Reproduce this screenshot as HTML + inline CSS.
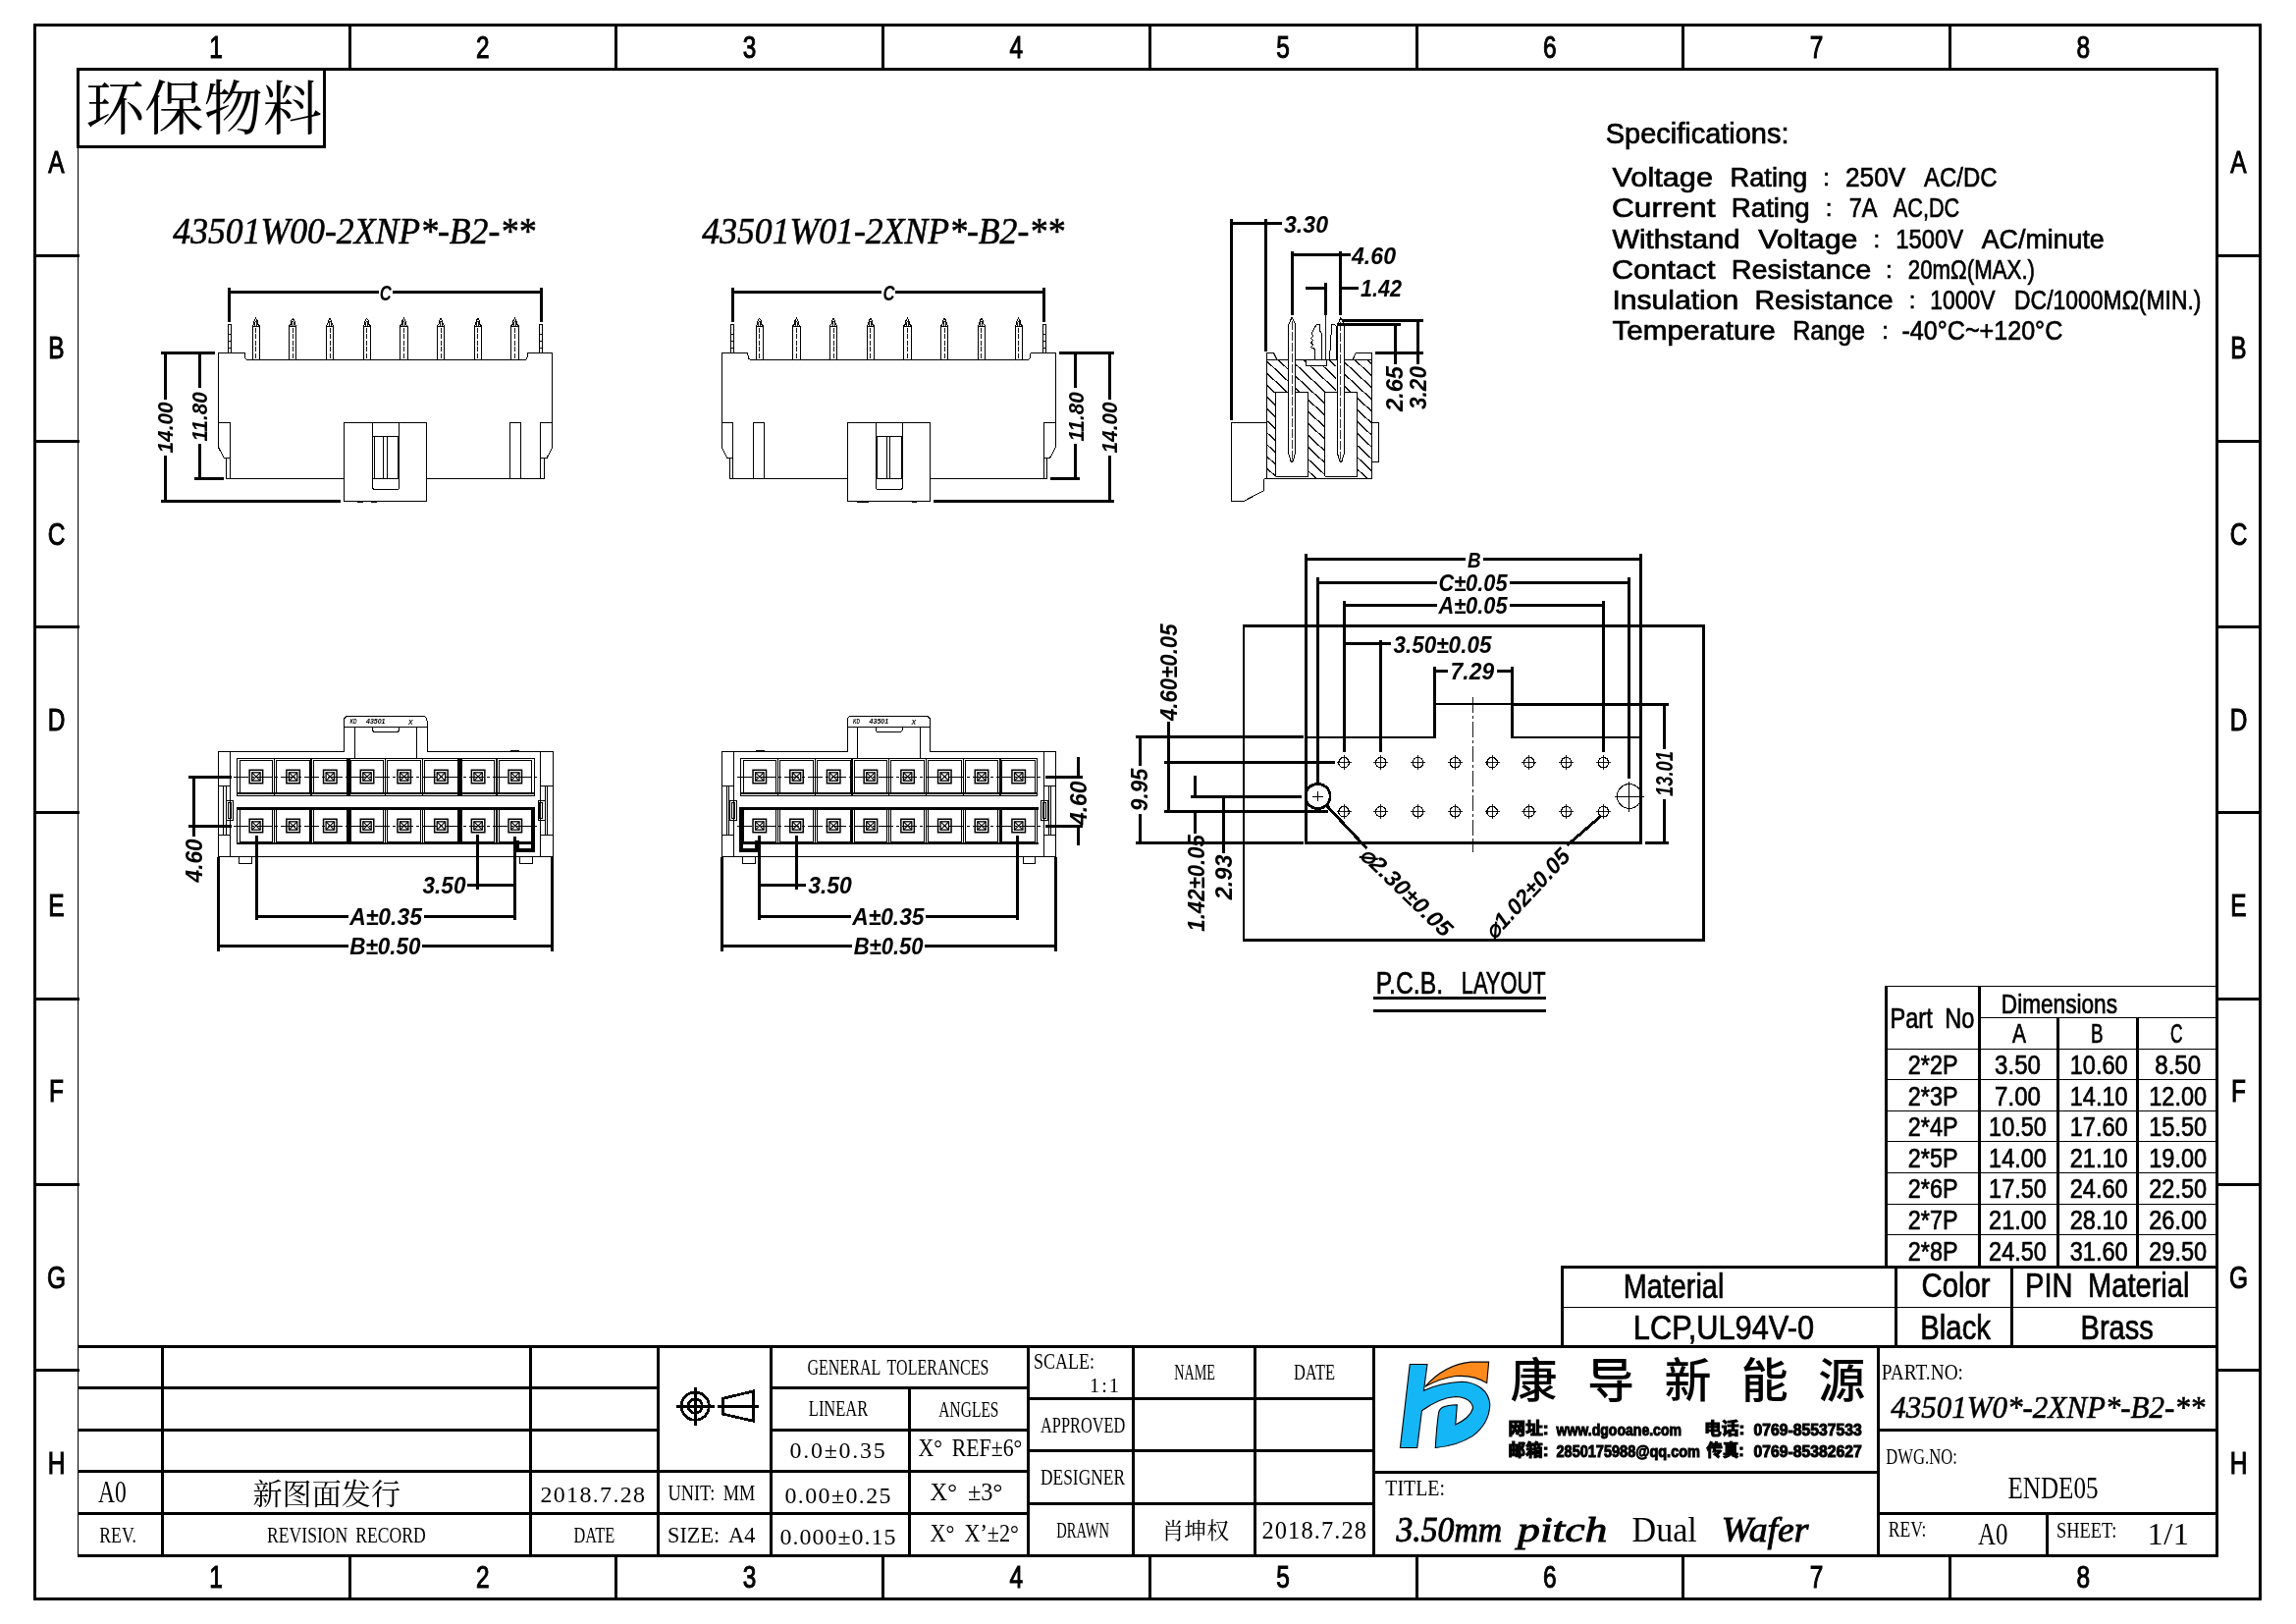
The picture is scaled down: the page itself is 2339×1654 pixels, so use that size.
<!DOCTYPE html>
<html lang="zh"><head><meta charset="utf-8"><title>43501W0 3.50mm pitch Dual Wafer</title>
<style>
html,body{margin:0;padding:0;background:#fff}
svg{display:block;will-change:transform}
svg *{vector-effect:none}
.ln path,.ln rect,.ln circle{fill:none;stroke:#000;shape-rendering:crispEdges}
.ln .aa *{shape-rendering:auto}
text{fill:#000;stroke:none}
.cad{font-family:"Liberation Sans",sans-serif;stroke:#000;stroke-width:.7px;word-spacing:.25em}
.dim{font-family:"Liberation Sans",sans-serif;font-style:italic;font-weight:bold}
.song{font-family:"Liberation Serif","Noto Serif CJK SC",serif;word-spacing:.2em}
.songi{font-family:"Liberation Serif","Noto Serif CJK SC",serif;font-style:italic;stroke:#000;stroke-width:.6px}
.songbi{font-family:"Liberation Serif","Noto Serif CJK SC",serif;font-style:italic;stroke:#000;stroke-width:.9px}
.zone{font-family:"Liberation Sans",sans-serif;stroke:#000;stroke-width:1.05px}
.hei{font-family:"Liberation Sans","Noto Sans CJK SC",sans-serif;font-weight:500}
.heib{font-family:"Liberation Sans","Noto Sans CJK SC",sans-serif;font-weight:bold;stroke:#000;stroke-width:1.1px}
</style></head><body>
<svg width="2339" height="1654" viewBox="0 0 2339 1654" class="ln">
<rect x="0" y="0" width="2339" height="1654" style="fill:#fff;stroke:none"/>

<g id="frame">
<rect x="35.5" y="25.2" width="2267" height="1603.3" stroke-width="3"/>
<path d="M78 70.5L2260.2 70.5" stroke-width="3"/>
<path d="M2258.75 70.5L2258.75 1585.5" stroke-width="3"/>
<path d="M78.5 1584.2L2260.2 1584.2" stroke-width="3"/>
<path d="M79.5 70L79.5 1585" stroke-width="1"/>
<path d="M356 25L356 70.5" stroke-width="3"/>
<path d="M356 1584L356 1628.5" stroke-width="3"/>
<path d="M35.5 260L80.5 260" stroke-width="3"/>
<path d="M2258.75 260L2302.5 260" stroke-width="3"/>
<path d="M627.75 25L627.75 70.5" stroke-width="3"/>
<path d="M627.75 1584L627.75 1628.5" stroke-width="3"/>
<path d="M35.5 449.25L80.5 449.25" stroke-width="3"/>
<path d="M2258.75 449.25L2302.5 449.25" stroke-width="3"/>
<path d="M899.5 25L899.5 70.5" stroke-width="3"/>
<path d="M899.5 1584L899.5 1628.5" stroke-width="3"/>
<path d="M35.5 638.5L80.5 638.5" stroke-width="3"/>
<path d="M2258.75 638.5L2302.5 638.5" stroke-width="3"/>
<path d="M1171.25 25L1171.25 70.5" stroke-width="3"/>
<path d="M1171.25 1584L1171.25 1628.5" stroke-width="3"/>
<path d="M35.5 827.75L80.5 827.75" stroke-width="3"/>
<path d="M2258.75 827.75L2302.5 827.75" stroke-width="3"/>
<path d="M1443 25L1443 70.5" stroke-width="3"/>
<path d="M1443 1584L1443 1628.5" stroke-width="3"/>
<path d="M35.5 1017L80.5 1017" stroke-width="3"/>
<path d="M2258.75 1017L2302.5 1017" stroke-width="3"/>
<path d="M1714.75 25L1714.75 70.5" stroke-width="3"/>
<path d="M1714.75 1584L1714.75 1628.5" stroke-width="3"/>
<path d="M35.5 1206.25L80.5 1206.25" stroke-width="3"/>
<path d="M2258.75 1206.25L2302.5 1206.25" stroke-width="3"/>
<path d="M1986.5 25L1986.5 70.5" stroke-width="3"/>
<path d="M1986.5 1584L1986.5 1628.5" stroke-width="3"/>
<path d="M35.5 1395.5L80.5 1395.5" stroke-width="3"/>
<path d="M2258.75 1395.5L2302.5 1395.5" stroke-width="3"/>
<text class="zone" x="220.1" y="59.3" font-size="30.5" text-anchor="middle" transform="translate(220.1 0) scale(.8 1) translate(-220.1 0)">1</text>
<text class="zone" x="220.1" y="1616.8" font-size="30.5" text-anchor="middle" transform="translate(220.1 0) scale(.8 1) translate(-220.1 0)">1</text>
<text class="zone" x="491.85" y="59.3" font-size="30.5" text-anchor="middle" transform="translate(491.85 0) scale(.8 1) translate(-491.85 0)">2</text>
<text class="zone" x="491.85" y="1616.8" font-size="30.5" text-anchor="middle" transform="translate(491.85 0) scale(.8 1) translate(-491.85 0)">2</text>
<text class="zone" x="763.6" y="59.3" font-size="30.5" text-anchor="middle" transform="translate(763.6 0) scale(.8 1) translate(-763.6 0)">3</text>
<text class="zone" x="763.6" y="1616.8" font-size="30.5" text-anchor="middle" transform="translate(763.6 0) scale(.8 1) translate(-763.6 0)">3</text>
<text class="zone" x="1035.35" y="59.3" font-size="30.5" text-anchor="middle" transform="translate(1035.35 0) scale(.8 1) translate(-1035.35 0)">4</text>
<text class="zone" x="1035.35" y="1616.8" font-size="30.5" text-anchor="middle" transform="translate(1035.35 0) scale(.8 1) translate(-1035.35 0)">4</text>
<text class="zone" x="1307.1" y="59.3" font-size="30.5" text-anchor="middle" transform="translate(1307.1 0) scale(.8 1) translate(-1307.1 0)">5</text>
<text class="zone" x="1307.1" y="1616.8" font-size="30.5" text-anchor="middle" transform="translate(1307.1 0) scale(.8 1) translate(-1307.1 0)">5</text>
<text class="zone" x="1578.85" y="59.3" font-size="30.5" text-anchor="middle" transform="translate(1578.85 0) scale(.8 1) translate(-1578.85 0)">6</text>
<text class="zone" x="1578.85" y="1616.8" font-size="30.5" text-anchor="middle" transform="translate(1578.85 0) scale(.8 1) translate(-1578.85 0)">6</text>
<text class="zone" x="1850.6" y="59.3" font-size="30.5" text-anchor="middle" transform="translate(1850.6 0) scale(.8 1) translate(-1850.6 0)">7</text>
<text class="zone" x="1850.6" y="1616.8" font-size="30.5" text-anchor="middle" transform="translate(1850.6 0) scale(.8 1) translate(-1850.6 0)">7</text>
<text class="zone" x="2122.35" y="59.3" font-size="30.5" text-anchor="middle" transform="translate(2122.35 0) scale(.8 1) translate(-2122.35 0)">8</text>
<text class="zone" x="2122.35" y="1616.8" font-size="30.5" text-anchor="middle" transform="translate(2122.35 0) scale(.8 1) translate(-2122.35 0)">8</text>
<text class="zone" x="57.5" y="176.1" font-size="30.5" text-anchor="middle" transform="translate(57.5 0) scale(.8 1) translate(-57.5 0)">A</text>
<text class="zone" x="2280.5" y="176.1" font-size="30.5" text-anchor="middle" transform="translate(2280.5 0) scale(.8 1) translate(-2280.5 0)">A</text>
<text class="zone" x="57.5" y="365.4" font-size="30.5" text-anchor="middle" transform="translate(57.5 0) scale(.8 1) translate(-57.5 0)">B</text>
<text class="zone" x="2280.5" y="365.4" font-size="30.5" text-anchor="middle" transform="translate(2280.5 0) scale(.8 1) translate(-2280.5 0)">B</text>
<text class="zone" x="57.5" y="554.65" font-size="30.5" text-anchor="middle" transform="translate(57.5 0) scale(.8 1) translate(-57.5 0)">C</text>
<text class="zone" x="2280.5" y="554.65" font-size="30.5" text-anchor="middle" transform="translate(2280.5 0) scale(.8 1) translate(-2280.5 0)">C</text>
<text class="zone" x="57.5" y="743.9" font-size="30.5" text-anchor="middle" transform="translate(57.5 0) scale(.8 1) translate(-57.5 0)">D</text>
<text class="zone" x="2280.5" y="743.9" font-size="30.5" text-anchor="middle" transform="translate(2280.5 0) scale(.8 1) translate(-2280.5 0)">D</text>
<text class="zone" x="57.5" y="933.15" font-size="30.5" text-anchor="middle" transform="translate(57.5 0) scale(.8 1) translate(-57.5 0)">E</text>
<text class="zone" x="2280.5" y="933.15" font-size="30.5" text-anchor="middle" transform="translate(2280.5 0) scale(.8 1) translate(-2280.5 0)">E</text>
<text class="zone" x="57.5" y="1122.4" font-size="30.5" text-anchor="middle" transform="translate(57.5 0) scale(.8 1) translate(-57.5 0)">F</text>
<text class="zone" x="2280.5" y="1122.4" font-size="30.5" text-anchor="middle" transform="translate(2280.5 0) scale(.8 1) translate(-2280.5 0)">F</text>
<text class="zone" x="57.5" y="1311.65" font-size="30.5" text-anchor="middle" transform="translate(57.5 0) scale(.8 1) translate(-57.5 0)">G</text>
<text class="zone" x="2280.5" y="1311.65" font-size="30.5" text-anchor="middle" transform="translate(2280.5 0) scale(.8 1) translate(-2280.5 0)">G</text>
<text class="zone" x="57.5" y="1500.8" font-size="30.5" text-anchor="middle" transform="translate(57.5 0) scale(.8 1) translate(-57.5 0)">H</text>
<text class="zone" x="2280.5" y="1500.8" font-size="30.5" text-anchor="middle" transform="translate(2280.5 0) scale(.8 1) translate(-2280.5 0)">H</text>
<rect x="79.5" y="70.5" width="250.5" height="78.5" stroke-width="3"/>
<text class="song" x="87" y="131.5" font-size="60.5" textLength="241" lengthAdjust="spacingAndGlyphs">环保物料</text>
</g>
<g id="tb">
<path d="M78.5 1371.25L2260 1371.25" stroke-width="3"/>
<path d="M78.5 1413.75L670.5 1413.75" stroke-width="3"/>
<path d="M785.5 1413.75L1047.5 1413.75" stroke-width="3"/>
<path d="M78.5 1456.25L670.5 1456.25" stroke-width="3"/>
<path d="M785.5 1456.25L1047.5 1456.25" stroke-width="3"/>
<path d="M78.5 1498.75L670.5 1498.75" stroke-width="3"/>
<path d="M670.5 1498.75L785.5 1498.75" stroke-width="3"/>
<path d="M785.5 1498.75L1047.5 1498.75" stroke-width="3"/>
<path d="M78.5 1541.25L670.5 1541.25" stroke-width="3"/>
<path d="M670.5 1541.25L785.5 1541.25" stroke-width="3"/>
<path d="M785.5 1541.25L1047.5 1541.25" stroke-width="3"/>
<path d="M1047.5 1424.5L1399.75 1424.5" stroke-width="3"/>
<path d="M1047.5 1477.5L1399.75 1477.5" stroke-width="3"/>
<path d="M1047.5 1531.25L1399.75 1531.25" stroke-width="3"/>
<path d="M1399.75 1499.25L1913.5 1499.25" stroke-width="3"/>
<path d="M1913.5 1456.25L2258.75 1456.25" stroke-width="3"/>
<path d="M1913.5 1541.25L2258.75 1541.25" stroke-width="3"/>
<path d="M165 1371.25L165 1584.2" stroke-width="3"/>
<path d="M540.5 1371.25L540.5 1584.2" stroke-width="3"/>
<path d="M670.5 1371.25L670.5 1584.2" stroke-width="3"/>
<path d="M785.5 1371.25L785.5 1584.2" stroke-width="3"/>
<path d="M1047.5 1371.25L1047.5 1584.2" stroke-width="3"/>
<path d="M1154.5 1371.25L1154.5 1584.2" stroke-width="3"/>
<path d="M1278.75 1371.25L1278.75 1584.2" stroke-width="3"/>
<path d="M1399.75 1371.25L1399.75 1584.2" stroke-width="3"/>
<path d="M1913.5 1371.25L1913.5 1584.2" stroke-width="3"/>
<path d="M926.25 1413.75L926.25 1584.2" stroke-width="3"/>
<path d="M2085 1541.25L2085 1584.2" stroke-width="3"/>
<path d="M1590 1290L2258.75 1290" stroke-width="3"/>
<path d="M1591.5 1288.5L1591.5 1371.25" stroke-width="3"/>
<path d="M1931.5 1290L1931.5 1371.25" stroke-width="3"/>
<path d="M2049.25 1290L2049.25 1371.25" stroke-width="3"/>
<path d="M1591.5 1331.5L2258.75 1331.5" stroke-width="1"/>
<path d="M1921.5 1004L1921.5 1290" stroke-width="3"/>
<path d="M2016.5 1004L2016.5 1290" stroke-width="3"/>
<path d="M2096.5 1036L2096.5 1290" stroke-width="3"/>
<path d="M2177.5 1036L2177.5 1290" stroke-width="3"/>
<path d="M1920.5 1004.5L2258.75 1004.5" stroke-width="1"/>
<path d="M2016.25 1036.5L2258.75 1036.5" stroke-width="1"/>
<path d="M1921.75 1068.5L2258.75 1068.5" stroke-width="1"/>
<path d="M1921.75 1099.5L2258.75 1099.5" stroke-width="1"/>
<path d="M1921.75 1131.5L2258.75 1131.5" stroke-width="1"/>
<path d="M1921.75 1162.5L2258.75 1162.5" stroke-width="1"/>
<path d="M1921.75 1194.5L2258.75 1194.5" stroke-width="1"/>
<path d="M1921.75 1226.5L2258.75 1226.5" stroke-width="1"/>
<path d="M1921.75 1257.5L2258.75 1257.5" stroke-width="1"/>
</g>
<g id="tt">
<text class="cad" x="1925.5" y="1047" font-size="29.33" textLength="85.8" lengthAdjust="spacingAndGlyphs">Part No</text>
<text class="cad" x="2038.8" y="1032" font-size="27.93" textLength="118.2" lengthAdjust="spacingAndGlyphs">Dimensions</text>
<text class="cad" x="2050" y="1061.5" font-size="27.23" textLength="14" lengthAdjust="spacingAndGlyphs">A</text>
<text class="cad" x="2130" y="1061.5" font-size="27.23" textLength="12.5" lengthAdjust="spacingAndGlyphs">B</text>
<text class="cad" x="2211" y="1061.5" font-size="27.23" textLength="12.5" lengthAdjust="spacingAndGlyphs">C</text>
<text class="cad" x="1943.8" y="1093.9" font-size="27.93" textLength="50.7" lengthAdjust="spacingAndGlyphs">2*2P</text>
<text class="cad" x="2032.1" y="1093.9" font-size="27.93" textLength="46.8" lengthAdjust="spacingAndGlyphs">3.50</text>
<text class="cad" x="2108.8" y="1093.9" font-size="27.93" textLength="58.8" lengthAdjust="spacingAndGlyphs">10.60</text>
<text class="cad" x="2195.3" y="1093.9" font-size="27.93" textLength="46.8" lengthAdjust="spacingAndGlyphs">8.50</text>
<text class="cad" x="1943.8" y="1125.5" font-size="27.93" textLength="50.7" lengthAdjust="spacingAndGlyphs">2*3P</text>
<text class="cad" x="2032.1" y="1125.5" font-size="27.93" textLength="46.8" lengthAdjust="spacingAndGlyphs">7.00</text>
<text class="cad" x="2108.8" y="1125.5" font-size="27.93" textLength="58.8" lengthAdjust="spacingAndGlyphs">14.10</text>
<text class="cad" x="2189.3" y="1125.5" font-size="27.93" textLength="58.8" lengthAdjust="spacingAndGlyphs">12.00</text>
<text class="cad" x="1943.8" y="1157.1" font-size="27.93" textLength="50.7" lengthAdjust="spacingAndGlyphs">2*4P</text>
<text class="cad" x="2026.1" y="1157.1" font-size="27.93" textLength="58.8" lengthAdjust="spacingAndGlyphs">10.50</text>
<text class="cad" x="2108.8" y="1157.1" font-size="27.93" textLength="58.8" lengthAdjust="spacingAndGlyphs">17.60</text>
<text class="cad" x="2189.3" y="1157.1" font-size="27.93" textLength="58.8" lengthAdjust="spacingAndGlyphs">15.50</text>
<text class="cad" x="1943.8" y="1188.7" font-size="27.93" textLength="50.7" lengthAdjust="spacingAndGlyphs">2*5P</text>
<text class="cad" x="2026.1" y="1188.7" font-size="27.93" textLength="58.8" lengthAdjust="spacingAndGlyphs">14.00</text>
<text class="cad" x="2108.8" y="1188.7" font-size="27.93" textLength="58.8" lengthAdjust="spacingAndGlyphs">21.10</text>
<text class="cad" x="2189.3" y="1188.7" font-size="27.93" textLength="58.8" lengthAdjust="spacingAndGlyphs">19.00</text>
<text class="cad" x="1943.8" y="1220.3" font-size="27.93" textLength="50.7" lengthAdjust="spacingAndGlyphs">2*6P</text>
<text class="cad" x="2026.1" y="1220.3" font-size="27.93" textLength="58.8" lengthAdjust="spacingAndGlyphs">17.50</text>
<text class="cad" x="2108.8" y="1220.3" font-size="27.93" textLength="58.8" lengthAdjust="spacingAndGlyphs">24.60</text>
<text class="cad" x="2189.3" y="1220.3" font-size="27.93" textLength="58.8" lengthAdjust="spacingAndGlyphs">22.50</text>
<text class="cad" x="1943.8" y="1251.9" font-size="27.93" textLength="50.7" lengthAdjust="spacingAndGlyphs">2*7P</text>
<text class="cad" x="2026.1" y="1251.9" font-size="27.93" textLength="58.8" lengthAdjust="spacingAndGlyphs">21.00</text>
<text class="cad" x="2108.8" y="1251.9" font-size="27.93" textLength="58.8" lengthAdjust="spacingAndGlyphs">28.10</text>
<text class="cad" x="2189.3" y="1251.9" font-size="27.93" textLength="58.8" lengthAdjust="spacingAndGlyphs">26.00</text>
<text class="cad" x="1943.8" y="1283.5" font-size="27.93" textLength="50.7" lengthAdjust="spacingAndGlyphs">2*8P</text>
<text class="cad" x="2026.1" y="1283.5" font-size="27.93" textLength="58.8" lengthAdjust="spacingAndGlyphs">24.50</text>
<text class="cad" x="2108.8" y="1283.5" font-size="27.93" textLength="58.8" lengthAdjust="spacingAndGlyphs">31.60</text>
<text class="cad" x="2189.3" y="1283.5" font-size="27.93" textLength="58.8" lengthAdjust="spacingAndGlyphs">29.50</text>
<text class="cad" x="1653.8" y="1322" font-size="34.92" textLength="102.5" lengthAdjust="spacingAndGlyphs">Material</text>
<text class="cad" x="1663.8" y="1364.3" font-size="34.64" textLength="184.2" lengthAdjust="spacingAndGlyphs">LCP,UL94V-0</text>
<text class="cad" x="1957.5" y="1320.5" font-size="34.92" textLength="70" lengthAdjust="spacingAndGlyphs">Color</text>
<text class="cad" x="2063" y="1320.5" font-size="34.92" textLength="167.5" lengthAdjust="spacingAndGlyphs">PIN Material</text>
<text class="cad" x="1956.3" y="1364" font-size="34.22" textLength="71.7" lengthAdjust="spacingAndGlyphs">Black</text>
<text class="cad" x="2119.5" y="1364" font-size="34.22" textLength="74.3" lengthAdjust="spacingAndGlyphs">Brass</text>
</g>
<g id="spec">
<text class="cad" x="1635.8" y="145.5" font-size="28.6" textLength="186.7" lengthAdjust="spacingAndGlyphs">Specifications:</text>
<text class="cad" x="1642.5" y="190" font-size="28.2" textLength="102.5" lengthAdjust="spacingAndGlyphs">Voltage</text>
<text class="cad" x="1762.5" y="190" font-size="28.2" textLength="78.75" lengthAdjust="spacingAndGlyphs">Rating</text>
<text class="cad" x="1857.25" y="189" font-size="24">:</text>
<text class="cad" x="1880" y="190" font-size="28.2" textLength="61.25" lengthAdjust="spacingAndGlyphs">250V</text>
<text class="cad" x="1960" y="190" font-size="28.2" textLength="74.5" lengthAdjust="spacingAndGlyphs">AC/DC</text>
<text class="cad" x="1642" y="221.25" font-size="28.2" textLength="105.5" lengthAdjust="spacingAndGlyphs">Current</text>
<text class="cad" x="1763.75" y="221.25" font-size="28.2" textLength="80" lengthAdjust="spacingAndGlyphs">Rating</text>
<text class="cad" x="1859.75" y="220.25" font-size="24">:</text>
<text class="cad" x="1883.75" y="221.25" font-size="28.2" textLength="28.75" lengthAdjust="spacingAndGlyphs">7A</text>
<text class="cad" x="1928.75" y="221.25" font-size="28.2" textLength="67.5" lengthAdjust="spacingAndGlyphs">AC,DC</text>
<text class="cad" x="1642.5" y="252.5" font-size="28.2" textLength="130" lengthAdjust="spacingAndGlyphs">Withstand</text>
<text class="cad" x="1791.25" y="252.5" font-size="28.2" textLength="101.25" lengthAdjust="spacingAndGlyphs">Voltage</text>
<text class="cad" x="1908.5" y="251.5" font-size="24">:</text>
<text class="cad" x="1931.25" y="252.5" font-size="28.2" textLength="68.75" lengthAdjust="spacingAndGlyphs">1500V</text>
<text class="cad" x="2018.75" y="252.5" font-size="28.2" textLength="125" lengthAdjust="spacingAndGlyphs">AC/minute</text>
<text class="cad" x="1642" y="283.75" font-size="28.2" textLength="105.5" lengthAdjust="spacingAndGlyphs">Contact</text>
<text class="cad" x="1763.75" y="283.75" font-size="28.2" textLength="142.5" lengthAdjust="spacingAndGlyphs">Resistance</text>
<text class="cad" x="1921" y="282.75" font-size="24">:</text>
<text class="cad" x="1943.75" y="283.75" font-size="28.2" textLength="129.25" lengthAdjust="spacingAndGlyphs">20mΩ(MAX.)</text>
<text class="cad" x="1642.5" y="315" font-size="28.2" textLength="128.75" lengthAdjust="spacingAndGlyphs">Insulation</text>
<text class="cad" x="1787.5" y="315" font-size="28.2" textLength="141.25" lengthAdjust="spacingAndGlyphs">Resistance</text>
<text class="cad" x="1944.75" y="314" font-size="24">:</text>
<text class="cad" x="1966.25" y="315" font-size="28.2" textLength="66.25" lengthAdjust="spacingAndGlyphs">1000V</text>
<text class="cad" x="2052" y="315" font-size="28.2" textLength="190.5" lengthAdjust="spacingAndGlyphs">DC/1000MΩ(MIN.)</text>
<text class="cad" x="1642.5" y="346.25" font-size="28.2" textLength="166.25" lengthAdjust="spacingAndGlyphs">Temperature</text>
<text class="cad" x="1826.25" y="346.25" font-size="28.2" textLength="73.75" lengthAdjust="spacingAndGlyphs">Range</text>
<text class="cad" x="1917.25" y="345.25" font-size="24">:</text>
<text class="cad" x="1937.5" y="346.25" font-size="28.2" textLength="163.75" lengthAdjust="spacingAndGlyphs">-40°C~+120°C</text>
</g>
<g id="tbt">
<text class="song" x="550.5" y="1530" font-size="23.96" textLength="106.5" lengthAdjust="spacing">2018.7.28</text>
<text class="song" x="680.5" y="1528" font-size="23.48" textLength="88.8" lengthAdjust="spacingAndGlyphs">UNIT: MM</text>
<text class="song" x="584.5" y="1570.5" font-size="22.73" textLength="41.8" lengthAdjust="spacingAndGlyphs">DATE</text>
<text class="song" x="680" y="1570.5" font-size="22.73" textLength="89.3" lengthAdjust="spacingAndGlyphs">SIZE: A4</text>
<text class="song" x="822.5" y="1400" font-size="22.73" textLength="185" lengthAdjust="spacingAndGlyphs">GENERAL TOLERANCES</text>
<text class="song" x="823.8" y="1442.3" font-size="22.42" textLength="60.5" lengthAdjust="spacingAndGlyphs">LINEAR</text>
<text class="song" x="956.3" y="1442.5" font-size="22.73" textLength="61.2" lengthAdjust="spacingAndGlyphs">ANGLES</text>
<text class="song" x="804.5" y="1485" font-size="23.96" textLength="97.3" lengthAdjust="spacing">0.0±0.35</text>
<text class="song" x="935.5" y="1482.5" font-size="24.55" textLength="105.8" lengthAdjust="spacingAndGlyphs">X° REF±6°</text>
<text class="song" x="799.5" y="1530.5" font-size="23.96" textLength="108" lengthAdjust="spacing">0.00±0.25</text>
<text class="song" x="947.5" y="1527.5" font-size="24.55" textLength="73.8" lengthAdjust="spacingAndGlyphs">X° ±3°</text>
<text class="song" x="794.5" y="1572.5" font-size="23.96" textLength="118" lengthAdjust="spacing">0.000±0.15</text>
<text class="song" x="947.5" y="1569.5" font-size="24.55" textLength="90.5" lengthAdjust="spacingAndGlyphs">X° X’±2°</text>
<text class="song" x="100" y="1530" font-size="31.36" textLength="28.8" lengthAdjust="spacingAndGlyphs">A0</text>
<text class="song" x="257.5" y="1532" font-size="30" textLength="150.5" lengthAdjust="spacingAndGlyphs">新图面发行</text>
<text class="song" x="101.3" y="1571" font-size="23.48" textLength="37.5" lengthAdjust="spacingAndGlyphs">REV.</text>
<text class="song" x="272" y="1571" font-size="23.48" textLength="161.8" lengthAdjust="spacingAndGlyphs">REVISION RECORD</text>
<text class="song" x="1053" y="1393.8" font-size="22.73" textLength="62" lengthAdjust="spacingAndGlyphs">SCALE:</text>
<text class="song" x="1110" y="1417.5" font-size="20.27" textLength="30" lengthAdjust="spacing">1:1</text>
<text class="song" x="1196.3" y="1405" font-size="22.73" textLength="41.7" lengthAdjust="spacingAndGlyphs">NAME</text>
<text class="song" x="1318" y="1405" font-size="22.73" textLength="42" lengthAdjust="spacingAndGlyphs">DATE</text>
<text class="song" x="1060" y="1458.8" font-size="22.73" textLength="86.3" lengthAdjust="spacingAndGlyphs">APPROVED</text>
<text class="song" x="1060" y="1512" font-size="22.73" textLength="86" lengthAdjust="spacingAndGlyphs">DESIGNER</text>
<text class="song" x="1076.3" y="1566.3" font-size="22.73" textLength="53.7" lengthAdjust="spacingAndGlyphs">DRAWN</text>
<text class="song" x="1183.5" y="1567" font-size="23" textLength="68.5" lengthAdjust="spacingAndGlyphs">肖坤权</text>
<text class="song" x="1285.5" y="1567" font-size="24.41" textLength="106.5" lengthAdjust="spacing">2018.7.28</text>
<text class="song" x="1411.3" y="1523" font-size="22.73" textLength="60.7" lengthAdjust="spacingAndGlyphs">TITLE:</text>
<text class="songbi" x="1422.5" y="1570" font-size="34.85" textLength="107.5" lengthAdjust="spacingAndGlyphs">3.50mm</text>
<text class="songbi" x="1546" y="1570" font-size="34.85" textLength="91.5" lengthAdjust="spacingAndGlyphs">pitch</text>
<text class="song" x="1662.5" y="1570" font-size="34.85" textLength="66.3" lengthAdjust="spacingAndGlyphs">Dual</text>
<text class="songbi" x="1753.8" y="1570" font-size="34.85" textLength="88.7" lengthAdjust="spacingAndGlyphs">Wafer</text>
<text class="song" x="1916.8" y="1405" font-size="22.73" textLength="83.2" lengthAdjust="spacingAndGlyphs">PART.NO:</text>
<text class="songi" x="1926.3" y="1443.8" font-size="32.27" textLength="320" lengthAdjust="spacingAndGlyphs">43501W0*-2XNP*-B2-**</text>
<text class="song" x="1921.3" y="1491.3" font-size="22.73" textLength="72.5" lengthAdjust="spacingAndGlyphs">DWG.NO:</text>
<text class="song" x="2045.5" y="1525.5" font-size="31.06" textLength="92" lengthAdjust="spacingAndGlyphs">ENDE05</text>
<text class="song" x="1923.8" y="1565" font-size="22.73" textLength="38.7" lengthAdjust="spacingAndGlyphs">REV:</text>
<text class="song" x="2015" y="1572.5" font-size="32.12" textLength="30.5" lengthAdjust="spacingAndGlyphs">A0</text>
<text class="song" x="2095" y="1565.8" font-size="22.42" textLength="61.3" lengthAdjust="spacingAndGlyphs">SHEET:</text>
<text class="song" x="2187.5" y="1573" font-size="32.54" textLength="42.5" lengthAdjust="spacing">1/1</text>
<text class="hei" x="1538.5" y="1422.5" font-size="48">康</text>
<text class="hei" x="1616.95" y="1422.5" font-size="48">导</text>
<text class="hei" x="1695.4" y="1422.5" font-size="48">新</text>
<text class="hei" x="1773.85" y="1422.5" font-size="48">能</text>
<text class="hei" x="1852.3" y="1422.5" font-size="48">源</text>
<text class="heib" x="1536.6" y="1460.8" font-size="16.5" textLength="41" lengthAdjust="spacingAndGlyphs">网址:</text>
<text class="heib" x="1585.5" y="1461.6" font-size="17" textLength="127.5" lengthAdjust="spacingAndGlyphs">www.dgooane.com</text>
<text class="heib" x="1736.1" y="1460.8" font-size="16.5" textLength="41.4" lengthAdjust="spacingAndGlyphs">电话:</text>
<text class="heib" x="1786.6" y="1461.6" font-size="17" textLength="110.1" lengthAdjust="spacingAndGlyphs">0769-85537533</text>
<text class="heib" x="1536.6" y="1482.8" font-size="16.5" textLength="41" lengthAdjust="spacingAndGlyphs">邮箱:</text>
<text class="heib" x="1585.5" y="1483.6" font-size="17" textLength="146.5" lengthAdjust="spacingAndGlyphs">2850175988@qq.com</text>
<text class="heib" x="1738.6" y="1482.8" font-size="16.5" textLength="38.1" lengthAdjust="spacingAndGlyphs">传真:</text>
<text class="heib" x="1786.6" y="1483.6" font-size="17" textLength="110.1" lengthAdjust="spacingAndGlyphs">0769-85382627</text>
<g class="aa" transform="translate(1400 1372) scale(.078818)" stroke="#0a2a6a" stroke-width="14">
<path style="fill:#14b6f6" d="M460 222L685 222L640 562C760 505 930 455 1130 447C1330 455 1480 560 1495 740C1490 900 1420 1040 1270 1150C1120 1245 960 1285 790 1300C800 1130 815 960 832 850C845 780 900 752 1070 745L1050 1002C1150 955 1250 880 1275 790C1270 700 1180 645 1050 640C900 650 740 730 615 822L555 1300L335 1300Z"/>
<path style="fill:#ff8a1c" d="M655 512C800 350 1000 215 1250 192L1480 190L1455 465C1330 385 1180 365 1050 375C900 395 770 450 655 512Z"/>
</g>
<circle cx="708.2" cy="1432.1" r="14.1" stroke-width="2.8"/>
<circle cx="708.2" cy="1432.1" r="7.2" stroke-width="2.8"/>
<path d="M689 1432.1L727.6 1432.1" stroke-width="2.8"/>
<path d="M708.2 1413.3L708.2 1451.8" stroke-width="2.8"/>
<path d="M736.5 1424.3L767.6 1416.9L767.6 1447.3L736.5 1440.1Z" stroke-width="2.8"/>
<path d="M731 1432.1L772.8 1432.1" stroke-width="2.8"/>
</g>
<text class="songi" x="176.3" y="248" font-size="38.24" textLength="368.7" lengthAdjust="spacingAndGlyphs">43501W00-2XNP*-B2-**</text>
<text class="songi" x="715.3" y="248" font-size="38.24" textLength="368.7" lengthAdjust="spacingAndGlyphs">43501W01-2XNP*-B2-**</text>
<g class="geo">
<path d="M222.5 455.5L222.5 359.6L249.3 359.6Q249.3 366.4 252 366.4L534.8 366.4Q537.5 366.4 537.5 359.6L562.8 359.6L562.8 455.5L557 466.5" stroke-width="1"/>
<path d="M222.5 455.5L228.2 466.5L234.3 466.5" stroke-width="1"/>
<path d="M550.7 466.5L557 466.5" stroke-width="1"/>
<path d="M222.5 430.4L234.3 430.4" stroke-width="1"/>
<path d="M234.3 430.4L234.3 487.5" stroke-width="1"/>
<path d="M230.6 466.5L230.6 487.5" stroke-width="1"/>
<path d="M550.7 430.4L562.8 430.4" stroke-width="1"/>
<path d="M550.7 430.4L550.7 487.5" stroke-width="1"/>
<path d="M554.3 466.5L554.3 487.5" stroke-width="1"/>
<path d="M230.6 487.5L350.5 487.5" stroke-width="1"/>
<path d="M434.7 487.5L554.3 487.5" stroke-width="1"/>
<path d="M519.7 487.5L519.7 430.4L530.3 430.4L530.3 487.5" stroke-width="1"/>
<rect x="350.5" y="430.4" width="84.2" height="79.9" stroke-width="1"/>
<path d="M379.5 430.4L379.5 495.5Q379.5 498.5 382.5 498.5L403.9 498.5Q406.9 498.5 406.9 495.5L406.9 430.4" stroke-width="1"/>
<path d="M379.5 444L406.9 444" stroke-width="1"/>
<path d="M379.5 487L406.9 487" stroke-width="1"/>
<path d="M381.1 444L381.1 487" stroke-width="1"/>
<path d="M405.5 444L405.5 487" stroke-width="1"/>
<path d="M390.7 444L390.7 487" stroke-width="1"/>
<path d="M394.3 444L394.3 487" stroke-width="1"/>
<path d="M364.4 510.6L369.5 510.6" stroke-width="1.8"/>
<path d="M377.5 510.6L383.5 510.6" stroke-width="1.8"/>
<path d="M257 366.4L257 331.8L258.4 330.4L259 326.8L260.6 324.2L262.2 326.8L262.8 330.4L264.2 331.8L264.2 366.4" stroke-width="1"/>
<path d="M257 332L264.2 332" stroke-width="1"/>
<path d="M259.6 331.8L259.6 327.5L261.6 327.5L261.6 331.8" stroke-width="0.9"/>
<path d="M260.6 333.5L260.6 366.4" stroke-width="0.9" stroke-dasharray="5 1.5"/>
<path d="M294.7 366.4L294.7 331.8L296.1 330.4L296.7 326.8L298.3 324.2L299.9 326.8L300.5 330.4L301.9 331.8L301.9 366.4" stroke-width="1"/>
<path d="M294.7 332L301.9 332" stroke-width="1"/>
<path d="M297.3 331.8L297.3 327.5L299.3 327.5L299.3 331.8" stroke-width="0.9"/>
<path d="M298.3 333.5L298.3 366.4" stroke-width="0.9" stroke-dasharray="5 1.5"/>
<path d="M332.4 366.4L332.4 331.8L333.8 330.4L334.4 326.8L336 324.2L337.6 326.8L338.2 330.4L339.6 331.8L339.6 366.4" stroke-width="1"/>
<path d="M332.4 332L339.6 332" stroke-width="1"/>
<path d="M335 331.8L335 327.5L337 327.5L337 331.8" stroke-width="0.9"/>
<path d="M336 333.5L336 366.4" stroke-width="0.9" stroke-dasharray="5 1.5"/>
<path d="M370.1 366.4L370.1 331.8L371.5 330.4L372.1 326.8L373.7 324.2L375.3 326.8L375.9 330.4L377.3 331.8L377.3 366.4" stroke-width="1"/>
<path d="M370.1 332L377.3 332" stroke-width="1"/>
<path d="M372.7 331.8L372.7 327.5L374.7 327.5L374.7 331.8" stroke-width="0.9"/>
<path d="M373.7 333.5L373.7 366.4" stroke-width="0.9" stroke-dasharray="5 1.5"/>
<path d="M407.8 366.4L407.8 331.8L409.2 330.4L409.8 326.8L411.4 324.2L413 326.8L413.6 330.4L415 331.8L415 366.4" stroke-width="1"/>
<path d="M407.8 332L415 332" stroke-width="1"/>
<path d="M410.4 331.8L410.4 327.5L412.4 327.5L412.4 331.8" stroke-width="0.9"/>
<path d="M411.4 333.5L411.4 366.4" stroke-width="0.9" stroke-dasharray="5 1.5"/>
<path d="M445.5 366.4L445.5 331.8L446.9 330.4L447.5 326.8L449.1 324.2L450.7 326.8L451.3 330.4L452.7 331.8L452.7 366.4" stroke-width="1"/>
<path d="M445.5 332L452.7 332" stroke-width="1"/>
<path d="M448.1 331.8L448.1 327.5L450.1 327.5L450.1 331.8" stroke-width="0.9"/>
<path d="M449.1 333.5L449.1 366.4" stroke-width="0.9" stroke-dasharray="5 1.5"/>
<path d="M483.2 366.4L483.2 331.8L484.6 330.4L485.2 326.8L486.8 324.2L488.4 326.8L489 330.4L490.4 331.8L490.4 366.4" stroke-width="1"/>
<path d="M483.2 332L490.4 332" stroke-width="1"/>
<path d="M485.8 331.8L485.8 327.5L487.8 327.5L487.8 331.8" stroke-width="0.9"/>
<path d="M486.8 333.5L486.8 366.4" stroke-width="0.9" stroke-dasharray="5 1.5"/>
<path d="M520.9 366.4L520.9 331.8L522.3 330.4L522.9 326.8L524.5 324.2L526.1 326.8L526.7 330.4L528.1 331.8L528.1 366.4" stroke-width="1"/>
<path d="M520.9 332L528.1 332" stroke-width="1"/>
<path d="M523.5 331.8L523.5 327.5L525.5 327.5L525.5 331.8" stroke-width="0.9"/>
<path d="M524.5 333.5L524.5 366.4" stroke-width="0.9" stroke-dasharray="5 1.5"/>
<rect x="232.05" y="330.4" width="3.1" height="29.2" stroke-width="1"/>
<path d="M232.1 340.8L235.1 340.8" stroke-width="1"/>
<path d="M232.1 347.6L235.1 347.6" stroke-width="1"/>
<path d="M232.1 354.4L235.1 354.4" stroke-width="1"/>
<rect x="549.65" y="330.4" width="3.1" height="29.2" stroke-width="1"/>
<path d="M549.7 340.8L552.7 340.8" stroke-width="1"/>
<path d="M549.7 347.6L552.7 347.6" stroke-width="1"/>
<path d="M549.7 354.4L552.7 354.4" stroke-width="1"/>
</g>
<g class="dimg">
<path d="M233.5 292.5L233.5 328" stroke-width="3"/>
<path d="M551.2 292.5L551.2 328" stroke-width="3"/>
<path d="M233.5 297.6L385.85 297.6" stroke-width="3"/>
<path d="M399.85 297.6L551.2 297.6" stroke-width="3"/>
<text class="dim" x="386.85" y="305.5" font-size="22.77" textLength="12" lengthAdjust="spacingAndGlyphs">C</text>
<path d="M163.6 359.6L219 359.6" stroke-width="3"/>
<path d="M163.6 510.3L347.4 510.3" stroke-width="3"/>
<path d="M198 487.5L228 487.5" stroke-width="3"/>
<path d="M168 359.6L168 407" stroke-width="3"/>
<path d="M168 463.5L168 510.3" stroke-width="3"/>
<path d="M203.1 359.6L203.1 395" stroke-width="3"/>
<path d="M203.1 451.5L203.1 487.5" stroke-width="3"/>
<text class="dim" x="0" y="0" font-size="22.35" transform="translate(176 461.5) rotate(-90)" textLength="52.1" lengthAdjust="spacingAndGlyphs">14.00</text>
<text class="dim" x="0" y="0" font-size="22.35" transform="translate(210.5 449.4) rotate(-90)" textLength="50" lengthAdjust="spacingAndGlyphs">11.80</text>
</g>
<g class="geo">
<path d="M735.1 455.5L735.1 359.6L761.9 359.6Q761.9 366.4 764.6 366.4L1047.3 366.4Q1050 366.4 1050 359.6L1075.3 359.6L1075.3 455.5L1069.5 466.5" stroke-width="1"/>
<path d="M735.1 455.5L740.8 466.5L746.9 466.5" stroke-width="1"/>
<path d="M1063.2 466.5L1069.5 466.5" stroke-width="1"/>
<path d="M735.1 430.4L746.9 430.4" stroke-width="1"/>
<path d="M746.9 430.4L746.9 487.5" stroke-width="1"/>
<path d="M743.2 466.5L743.2 487.5" stroke-width="1"/>
<path d="M1063.2 430.4L1075.3 430.4" stroke-width="1"/>
<path d="M1063.2 430.4L1063.2 487.5" stroke-width="1"/>
<path d="M1066.8 466.5L1066.8 487.5" stroke-width="1"/>
<path d="M743.2 487.5L863.1 487.5" stroke-width="1"/>
<path d="M947.3 487.5L1066.8 487.5" stroke-width="1"/>
<path d="M767.5 487.5L767.5 430.4L778.1 430.4L778.1 487.5" stroke-width="1"/>
<rect x="863.1" y="430.4" width="84.2" height="79.9" stroke-width="1"/>
<path d="M892.1 430.4L892.1 495.5Q892.1 498.5 895.1 498.5L916.5 498.5Q919.5 498.5 919.5 495.5L919.5 430.4" stroke-width="1"/>
<path d="M892.1 444L919.5 444" stroke-width="1"/>
<path d="M892.1 487L919.5 487" stroke-width="1"/>
<path d="M893.7 444L893.7 487" stroke-width="1"/>
<path d="M918.1 444L918.1 487" stroke-width="1"/>
<path d="M903.3 444L903.3 487" stroke-width="1"/>
<path d="M906.9 444L906.9 487" stroke-width="1"/>
<path d="M877 510.6L882.1 510.6" stroke-width="1.8"/>
<path d="M873.3 510.6L885.4 510.6" stroke-width="1.8"/>
<path d="M929.4 510.6L934.4 510.6" stroke-width="1.8"/>
<path d="M770.1 366.4L770.1 331.8L771.5 330.4L772.1 326.8L773.7 324.2L775.3 326.8L775.9 330.4L777.3 331.8L777.3 366.4" stroke-width="1"/>
<path d="M770.1 332L777.3 332" stroke-width="1"/>
<path d="M772.7 331.8L772.7 327.5L774.7 327.5L774.7 331.8" stroke-width="0.9"/>
<path d="M773.7 333.5L773.7 366.4" stroke-width="0.9" stroke-dasharray="5 1.5"/>
<path d="M807.8 366.4L807.8 331.8L809.2 330.4L809.8 326.8L811.4 324.2L813 326.8L813.6 330.4L815 331.8L815 366.4" stroke-width="1"/>
<path d="M807.8 332L815 332" stroke-width="1"/>
<path d="M810.4 331.8L810.4 327.5L812.4 327.5L812.4 331.8" stroke-width="0.9"/>
<path d="M811.4 333.5L811.4 366.4" stroke-width="0.9" stroke-dasharray="5 1.5"/>
<path d="M845.5 366.4L845.5 331.8L846.9 330.4L847.5 326.8L849.1 324.2L850.7 326.8L851.3 330.4L852.7 331.8L852.7 366.4" stroke-width="1"/>
<path d="M845.5 332L852.7 332" stroke-width="1"/>
<path d="M848.1 331.8L848.1 327.5L850.1 327.5L850.1 331.8" stroke-width="0.9"/>
<path d="M849.1 333.5L849.1 366.4" stroke-width="0.9" stroke-dasharray="5 1.5"/>
<path d="M883.2 366.4L883.2 331.8L884.6 330.4L885.2 326.8L886.8 324.2L888.4 326.8L889 330.4L890.4 331.8L890.4 366.4" stroke-width="1"/>
<path d="M883.2 332L890.4 332" stroke-width="1"/>
<path d="M885.8 331.8L885.8 327.5L887.8 327.5L887.8 331.8" stroke-width="0.9"/>
<path d="M886.8 333.5L886.8 366.4" stroke-width="0.9" stroke-dasharray="5 1.5"/>
<path d="M920.9 366.4L920.9 331.8L922.3 330.4L922.9 326.8L924.5 324.2L926.1 326.8L926.7 330.4L928.1 331.8L928.1 366.4" stroke-width="1"/>
<path d="M920.9 332L928.1 332" stroke-width="1"/>
<path d="M923.5 331.8L923.5 327.5L925.5 327.5L925.5 331.8" stroke-width="0.9"/>
<path d="M924.5 333.5L924.5 366.4" stroke-width="0.9" stroke-dasharray="5 1.5"/>
<path d="M958.6 366.4L958.6 331.8L960 330.4L960.6 326.8L962.2 324.2L963.8 326.8L964.4 330.4L965.8 331.8L965.8 366.4" stroke-width="1"/>
<path d="M958.6 332L965.8 332" stroke-width="1"/>
<path d="M961.2 331.8L961.2 327.5L963.2 327.5L963.2 331.8" stroke-width="0.9"/>
<path d="M962.2 333.5L962.2 366.4" stroke-width="0.9" stroke-dasharray="5 1.5"/>
<path d="M996.3 366.4L996.3 331.8L997.7 330.4L998.3 326.8L999.9 324.2L1001.5 326.8L1002.1 330.4L1003.5 331.8L1003.5 366.4" stroke-width="1"/>
<path d="M996.3 332L1003.5 332" stroke-width="1"/>
<path d="M998.9 331.8L998.9 327.5L1000.9 327.5L1000.9 331.8" stroke-width="0.9"/>
<path d="M999.9 333.5L999.9 366.4" stroke-width="0.9" stroke-dasharray="5 1.5"/>
<path d="M1034 366.4L1034 331.8L1035.4 330.4L1036 326.8L1037.6 324.2L1039.2 326.8L1039.8 330.4L1041.2 331.8L1041.2 366.4" stroke-width="1"/>
<path d="M1034 332L1041.2 332" stroke-width="1"/>
<path d="M1036.6 331.8L1036.6 327.5L1038.6 327.5L1038.6 331.8" stroke-width="0.9"/>
<path d="M1037.6 333.5L1037.6 366.4" stroke-width="0.9" stroke-dasharray="5 1.5"/>
<rect x="744.65" y="330.4" width="3.1" height="29.2" stroke-width="1"/>
<path d="M744.7 340.8L747.7 340.8" stroke-width="1"/>
<path d="M744.7 347.6L747.7 347.6" stroke-width="1"/>
<path d="M744.7 354.4L747.7 354.4" stroke-width="1"/>
<rect x="1062.15" y="330.4" width="3.1" height="29.2" stroke-width="1"/>
<path d="M1062.2 340.8L1065.2 340.8" stroke-width="1"/>
<path d="M1062.2 347.6L1065.2 347.6" stroke-width="1"/>
<path d="M1062.2 354.4L1065.2 354.4" stroke-width="1"/>
</g>
<g class="dimg">
<path d="M746.1 292.5L746.1 328" stroke-width="3"/>
<path d="M1063.7 292.5L1063.7 328" stroke-width="3"/>
<path d="M746.1 297.6L898.4 297.6" stroke-width="3"/>
<path d="M912.4 297.6L1063.7 297.6" stroke-width="3"/>
<text class="dim" x="899.4" y="305.5" font-size="22.77" textLength="12" lengthAdjust="spacingAndGlyphs">C</text>
<path d="M1078.7 359.6L1135.2 359.6" stroke-width="3"/>
<path d="M1069.7 487.5L1099.7 487.5" stroke-width="3"/>
<path d="M950.5 510.3L1135.2 510.3" stroke-width="3"/>
<path d="M1095.7 359.6L1095.7 395" stroke-width="3"/>
<path d="M1095.7 451.5L1095.7 487.5" stroke-width="3"/>
<path d="M1130.2 359.6L1130.2 407" stroke-width="3"/>
<path d="M1130.2 463.5L1130.2 510.3" stroke-width="3"/>
<text class="dim" x="0" y="0" font-size="22.35" transform="translate(1103.5 449.4) rotate(-90)" textLength="50" lengthAdjust="spacingAndGlyphs">11.80</text>
<text class="dim" x="0" y="0" font-size="22.35" transform="translate(1138 461.5) rotate(-90)" textLength="52.1" lengthAdjust="spacingAndGlyphs">14.00</text>
</g>
<g class="geo">
<clipPath id="hc"><path d="M1290.4 366.4H1397.7V487.5H1382.8V399.3H1349.5V487.5H1332.5V399.3H1299.5V487.5H1290.4Z"/></clipPath>
<g clip-path="url(#hc)">
<path d="M1288.4 220.8L1399.7 324.31" stroke-width="1.3"/>
<path d="M1288.4 232.9L1399.7 336.41" stroke-width="1.3"/>
<path d="M1288.4 245L1399.7 348.51" stroke-width="1.3"/>
<path d="M1288.4 257.1L1399.7 360.61" stroke-width="1.3"/>
<path d="M1288.4 269.2L1399.7 372.71" stroke-width="1.3"/>
<path d="M1288.4 281.3L1399.7 384.81" stroke-width="1.3"/>
<path d="M1288.4 293.4L1399.7 396.91" stroke-width="1.3"/>
<path d="M1288.4 305.5L1399.7 409.01" stroke-width="1.3"/>
<path d="M1288.4 317.6L1399.7 421.11" stroke-width="1.3"/>
<path d="M1288.4 329.7L1399.7 433.21" stroke-width="1.3"/>
<path d="M1288.4 341.8L1399.7 445.31" stroke-width="1.3"/>
<path d="M1288.4 353.9L1399.7 457.41" stroke-width="1.3"/>
<path d="M1288.4 366L1399.7 469.51" stroke-width="1.3"/>
<path d="M1288.4 378.1L1399.7 481.61" stroke-width="1.3"/>
<path d="M1288.4 390.2L1399.7 493.71" stroke-width="1.3"/>
<path d="M1288.4 402.3L1399.7 505.81" stroke-width="1.3"/>
<path d="M1288.4 414.4L1399.7 517.91" stroke-width="1.3"/>
<path d="M1288.4 426.5L1399.7 530.01" stroke-width="1.3"/>
<path d="M1288.4 438.6L1399.7 542.11" stroke-width="1.3"/>
<path d="M1288.4 450.7L1399.7 554.21" stroke-width="1.3"/>
<path d="M1288.4 462.8L1399.7 566.31" stroke-width="1.3"/>
<path d="M1288.4 474.9L1399.7 578.41" stroke-width="1.3"/>
<path d="M1288.4 487L1399.7 590.51" stroke-width="1.3"/>
<path d="M1288.4 499.1L1399.7 602.61" stroke-width="1.3"/>
<path d="M1288.4 511.2L1399.7 614.71" stroke-width="1.3"/>
<path d="M1288.4 523.3L1399.7 626.81" stroke-width="1.3"/>
<rect x="1311.6" y="366" width="8.8" height="34" style="fill:#fff;stroke:none"/><rect x="1361.4" y="366" width="9" height="34" style="fill:#fff;stroke:none"/><rect x="1330.5" y="366.4" width="20.8" height="6.5" style="fill:#fff;stroke:none"/>
</g>
<path d="M1290.4 487.5L1290.4 359.5L1297.5 359.5L1301 366.4" stroke-width="1"/>
<path d="M1378.2 366.4L1381.2 359.5L1397.7 359.5L1397.7 487.5" stroke-width="1"/>
<path d="M1290.4 366.4L1312.5 366.4" stroke-width="1"/>
<path d="M1319.5 366.4L1362.3 366.4" stroke-width="1"/>
<path d="M1369.5 366.4L1397.7 366.4" stroke-width="1"/>
<rect x="1330.5" y="366.4" width="20.8" height="6.5" stroke-width="1"/>
<path d="M1299.5 485.4L1299.5 399.3L1332.5 399.3L1332.5 485.4" stroke-width="1"/>
<path d="M1299.5 485.4L1332.5 485.4" stroke-width="1"/>
<path d="M1349.5 485.4L1349.5 399.3L1382.8 399.3L1382.8 485.4" stroke-width="1"/>
<path d="M1349.5 485.4L1382.8 485.4" stroke-width="1"/>
<path d="M1287.6 487.5L1397.7 487.5" stroke-width="1"/>
<path d="M1316.05 323.2L1318.65 328.2L1319.6 331.2L1319.6 462L1318.25 465L1317.65 469L1316.05 470.6L1314.45 469L1313.85 465L1312.5 462L1312.5 331.2Z" stroke-width="1" style="fill:#fff"/>
<path d="M1316.05 327.2L1316.05 468" stroke-width="0.8" stroke-dasharray="9 2"/>
<path d="M1365.9 323.6L1368.5 328.6L1369.5 331.6L1369.5 462L1368.1 465L1367.5 469L1365.9 470.6L1364.3 469L1363.7 465L1362.3 462L1362.3 331.6Z" stroke-width="1" style="fill:#fff"/>
<path d="M1365.9 327.6L1365.9 468" stroke-width="0.8" stroke-dasharray="9 2"/>
<path d="M1339.7 366.4L1339.7 355.5L1335.4 353.8L1337.6 351.2L1335.6 349L1337.6 346.6L1335.6 344.4L1337.8 342L1336 339.8L1338 336L1341.2 330.6L1344.5 330.6L1344.5 337L1346 338.5L1346.8 366.4" stroke-width="1"/>
<path d="M1354.4 366.4L1354.6 358L1355.3 356L1355.5 341.5L1356.5 340L1356.5 330.6L1359.8 330.6L1361.7 333L1361.7 366.4" stroke-width="1"/>
<path d="M1350.5 320.5L1350.5 366.4" stroke-width="0.9"/>
<path d="M1290.4 430.4L1254.4 430.4L1254.4 510.7L1266.4 510.7L1287.6 499.7L1287.6 487.5" stroke-width="1"/>
<path d="M1397.7 430.4L1404.7 430.4L1404.7 470.4L1397.7 470.4" stroke-width="1"/>
</g>
<g class="dimg">
<path d="M1254.4 223L1254.4 427.7" stroke-width="3"/>
<path d="M1289.5 223L1289.5 357.6" stroke-width="3"/>
<path d="M1254.4 227L1306 227" stroke-width="3"/>
<text class="dim" x="1308" y="236.9" font-size="23.32" textLength="45" lengthAdjust="spacingAndGlyphs">3.30</text>
<path d="M1316.5 256L1316.5 321" stroke-width="3"/>
<path d="M1365.5 256L1365.5 321" stroke-width="3"/>
<path d="M1316.5 259.6L1376 259.6" stroke-width="3"/>
<text class="dim" x="1377" y="268.5" font-size="23.6" textLength="45" lengthAdjust="spacingAndGlyphs">4.60</text>
<path d="M1330 293L1350.5 293" stroke-width="3"/>
<path d="M1350.5 288L1350.5 320.5" stroke-width="3"/>
<path d="M1365.5 293L1384 293" stroke-width="3"/>
<text class="dim" x="1386" y="301.5" font-size="23.32" textLength="42" lengthAdjust="spacingAndGlyphs">1.42</text>
<path d="M1367 326.4L1449.6 326.4" stroke-width="3"/>
<path d="M1361.7 330.4L1427 330.4" stroke-width="3"/>
<path d="M1400.5 359.5L1449.6 359.5" stroke-width="3"/>
<path d="M1421 330.4L1421 371" stroke-width="3"/>
<path d="M1444.4 326.4L1444.4 371" stroke-width="3"/>
<text class="dim" x="0" y="0" font-size="23.04" transform="translate(1429 419) rotate(-90)" textLength="46" lengthAdjust="spacingAndGlyphs">2.65</text>
<text class="dim" x="0" y="0" font-size="23.04" transform="translate(1453 417) rotate(-90)" textLength="44" lengthAdjust="spacingAndGlyphs">3.20</text>
</g>
<g class="geo">
<path d="M222.5 872.6L222.5 765.3L350.4 765.3L350.4 734.2Q350.4 729.2 355.4 729.2L430 729.2Q435 729.2 435 734.2L435 765.3L563.1 765.3L563.1 872.6Z" stroke-width="1"/>
<path d="M350.4 740.2L435 740.2" stroke-width="1"/>
<path d="M361.3 773L361.3 740.2M424.5 740.2L424.5 773" stroke-width="1"/>
<path d="M379.4 740.2L379.4 744L380.5 745L405.4 745L406.4 744L406.4 740.2" stroke-width="1"/>
<text class="dim" x="356.5" y="737.3" font-size="6.5" textLength="7" lengthAdjust="spacingAndGlyphs">KD</text>
<text class="dim" x="373" y="737.3" font-size="6.5" textLength="19.5" lengthAdjust="spacingAndGlyphs">43501</text>
<text class="dim" x="416" y="737.5" font-size="7.5" textLength="4.6" lengthAdjust="spacingAndGlyphs">X</text>
<path d="M234.5 765.3L234.5 872.6" stroke-width="1"/>
<path d="M550.7 765.3L550.7 872.6" stroke-width="1"/>
<path d="M227.7 800.8L227.7 850" stroke-width="1"/>
<path d="M230.2 800.8L230.2 850" stroke-width="1"/>
<path d="M222.5 800.8L234.5 800.8" stroke-width="1"/>
<path d="M222.5 850L234.5 850" stroke-width="1"/>
<rect x="230.4" y="815.5" width="7.2" height="19.8" stroke-width="1"/>
<rect x="232.9" y="817.6" width="2.8" height="15.6" stroke-width="1"/>
<path d="M557.9 800.8L557.9 850" stroke-width="1"/>
<path d="M555.4 800.8L555.4 850" stroke-width="1"/>
<path d="M563.1 800.8L551.1 800.8" stroke-width="1"/>
<path d="M563.1 850L551.1 850" stroke-width="1"/>
<rect x="548" y="815.5" width="7.2" height="19.8" stroke-width="1"/>
<rect x="549.9" y="817.6" width="2.8" height="15.6" stroke-width="1"/>
<rect x="241.6" y="772.8" width="302.7" height="37.4" stroke-width="1"/>
<rect x="241.6" y="822.6" width="302.7" height="36.8" stroke-width="1"/>
<path d="M241 823.1L544.9 823.1" stroke-width="3"/>
<path d="M241 859L544.9 859" stroke-width="2.4"/>
<path d="M241.6 808.3L544.3 808.3" stroke-width="1.8"/>
<rect x="244.1" y="774.3" width="33.6" height="33.3" stroke-width="1"/>
<g class="aa">
<rect x="254.15" y="784.25" width="13.5" height="13.5" stroke-width="1.5"/>
<rect x="256.7" y="786.8" width="8.4" height="8.4" stroke-width="1.3"/>
<path d="M256.7 786.8L265.1 795.2M265.1 786.8L256.7 795.2" stroke-width="1.1"/>
</g>
<rect x="244.1" y="824.6" width="33.6" height="32.5" stroke-width="1"/>
<g class="aa">
<rect x="254.15" y="834.25" width="13.5" height="13.5" stroke-width="1.5"/>
<rect x="256.7" y="836.8" width="8.4" height="8.4" stroke-width="1.3"/>
<path d="M256.7 836.8L265.1 845.2M265.1 836.8L256.7 845.2" stroke-width="1.1"/>
</g>
<path d="M279.75 772.8L279.75 810.2" stroke-width="1.2"/>
<path d="M279.75 822.6L279.75 859.4" stroke-width="1.2"/>
<rect x="281.8" y="774.3" width="33.6" height="33.3" stroke-width="1"/>
<g class="aa">
<rect x="291.85" y="784.25" width="13.5" height="13.5" stroke-width="1.5"/>
<rect x="294.4" y="786.8" width="8.4" height="8.4" stroke-width="1.3"/>
<path d="M294.4 786.8L302.8 795.2M302.8 786.8L294.4 795.2" stroke-width="1.1"/>
</g>
<rect x="281.8" y="824.6" width="33.6" height="32.5" stroke-width="1"/>
<g class="aa">
<rect x="291.85" y="834.25" width="13.5" height="13.5" stroke-width="1.5"/>
<rect x="294.4" y="836.8" width="8.4" height="8.4" stroke-width="1.3"/>
<path d="M294.4 836.8L302.8 845.2M302.8 836.8L294.4 845.2" stroke-width="1.1"/>
</g>
<path d="M317.45 772.8L317.45 810.2" stroke-width="2"/>
<path d="M317.45 822.6L317.45 859.4" stroke-width="2"/>
<rect x="319.5" y="774.3" width="33.6" height="33.3" stroke-width="1"/>
<g class="aa">
<rect x="329.55" y="784.25" width="13.5" height="13.5" stroke-width="1.5"/>
<rect x="332.1" y="786.8" width="8.4" height="8.4" stroke-width="1.3"/>
<path d="M332.1 786.8L340.5 795.2M340.5 786.8L332.1 795.2" stroke-width="1.1"/>
</g>
<rect x="319.5" y="824.6" width="33.6" height="32.5" stroke-width="1"/>
<g class="aa">
<rect x="329.55" y="834.25" width="13.5" height="13.5" stroke-width="1.5"/>
<rect x="332.1" y="836.8" width="8.4" height="8.4" stroke-width="1.3"/>
<path d="M332.1 836.8L340.5 845.2M340.5 836.8L332.1 845.2" stroke-width="1.1"/>
</g>
<path d="M355.15 772.8L355.15 810.2" stroke-width="4.6"/>
<path d="M355.15 822.6L355.15 859.4" stroke-width="4.6"/>
<rect x="357.2" y="774.3" width="33.6" height="33.3" stroke-width="1"/>
<g class="aa">
<rect x="367.25" y="784.25" width="13.5" height="13.5" stroke-width="1.5"/>
<rect x="369.8" y="786.8" width="8.4" height="8.4" stroke-width="1.3"/>
<path d="M369.8 786.8L378.2 795.2M378.2 786.8L369.8 795.2" stroke-width="1.1"/>
</g>
<rect x="357.2" y="824.6" width="33.6" height="32.5" stroke-width="1"/>
<g class="aa">
<rect x="367.25" y="834.25" width="13.5" height="13.5" stroke-width="1.5"/>
<rect x="369.8" y="836.8" width="8.4" height="8.4" stroke-width="1.3"/>
<path d="M369.8 836.8L378.2 845.2M378.2 836.8L369.8 845.2" stroke-width="1.1"/>
</g>
<path d="M392.85 772.8L392.85 810.2" stroke-width="1.2"/>
<path d="M392.85 822.6L392.85 859.4" stroke-width="1.2"/>
<rect x="394.9" y="774.3" width="33.6" height="33.3" stroke-width="1"/>
<g class="aa">
<rect x="404.95" y="784.25" width="13.5" height="13.5" stroke-width="1.5"/>
<rect x="407.5" y="786.8" width="8.4" height="8.4" stroke-width="1.3"/>
<path d="M407.5 786.8L415.9 795.2M415.9 786.8L407.5 795.2" stroke-width="1.1"/>
</g>
<rect x="394.9" y="824.6" width="33.6" height="32.5" stroke-width="1"/>
<g class="aa">
<rect x="404.95" y="834.25" width="13.5" height="13.5" stroke-width="1.5"/>
<rect x="407.5" y="836.8" width="8.4" height="8.4" stroke-width="1.3"/>
<path d="M407.5 836.8L415.9 845.2M415.9 836.8L407.5 845.2" stroke-width="1.1"/>
</g>
<path d="M430.55 772.8L430.55 810.2" stroke-width="1.2"/>
<path d="M430.55 822.6L430.55 859.4" stroke-width="1.2"/>
<rect x="432.6" y="774.3" width="33.6" height="33.3" stroke-width="1"/>
<g class="aa">
<rect x="442.65" y="784.25" width="13.5" height="13.5" stroke-width="1.5"/>
<rect x="445.2" y="786.8" width="8.4" height="8.4" stroke-width="1.3"/>
<path d="M445.2 786.8L453.6 795.2M453.6 786.8L445.2 795.2" stroke-width="1.1"/>
</g>
<rect x="432.6" y="824.6" width="33.6" height="32.5" stroke-width="1"/>
<g class="aa">
<rect x="442.65" y="834.25" width="13.5" height="13.5" stroke-width="1.5"/>
<rect x="445.2" y="836.8" width="8.4" height="8.4" stroke-width="1.3"/>
<path d="M445.2 836.8L453.6 845.2M453.6 836.8L445.2 845.2" stroke-width="1.1"/>
</g>
<path d="M468.25 772.8L468.25 810.2" stroke-width="4.6"/>
<path d="M468.25 822.6L468.25 859.4" stroke-width="4.6"/>
<rect x="470.3" y="774.3" width="33.6" height="33.3" stroke-width="1"/>
<g class="aa">
<rect x="480.35" y="784.25" width="13.5" height="13.5" stroke-width="1.5"/>
<rect x="482.9" y="786.8" width="8.4" height="8.4" stroke-width="1.3"/>
<path d="M482.9 786.8L491.3 795.2M491.3 786.8L482.9 795.2" stroke-width="1.1"/>
</g>
<rect x="470.3" y="824.6" width="33.6" height="32.5" stroke-width="1"/>
<g class="aa">
<rect x="480.35" y="834.25" width="13.5" height="13.5" stroke-width="1.5"/>
<rect x="482.9" y="836.8" width="8.4" height="8.4" stroke-width="1.3"/>
<path d="M482.9 836.8L491.3 845.2M491.3 836.8L482.9 845.2" stroke-width="1.1"/>
</g>
<path d="M505.95 772.8L505.95 810.2" stroke-width="1.2"/>
<path d="M505.95 822.6L505.95 859.4" stroke-width="1.2"/>
<rect x="508" y="774.3" width="33.6" height="33.3" stroke-width="1"/>
<g class="aa">
<rect x="518.05" y="784.25" width="13.5" height="13.5" stroke-width="1.5"/>
<rect x="520.6" y="786.8" width="8.4" height="8.4" stroke-width="1.3"/>
<path d="M520.6 786.8L529 795.2M529 786.8L520.6 795.2" stroke-width="1.1"/>
</g>
<rect x="508" y="824.6" width="33.6" height="32.5" stroke-width="1"/>
<g class="aa">
<rect x="518.05" y="834.25" width="13.5" height="13.5" stroke-width="1.5"/>
<rect x="520.6" y="836.8" width="8.4" height="8.4" stroke-width="1.3"/>
<path d="M520.6 836.8L529 845.2M529 836.8L520.6 845.2" stroke-width="1.1"/>
</g>
<path d="M238 791L548.6 791" stroke-width="1" stroke-dasharray="15 3 3 3"/>
<path d="M238 841L548.6 841" stroke-width="1" stroke-dasharray="15 3 3 3"/>
<path d="M543.1 822L543.1 865.6L527 865.6L527 856" stroke-width="4.2" stroke-linejoin="miter"/>
<path d="M243.4 872.6L243.4 879.4L256.7 879.4L256.7 872.6" stroke-width="1"/>
<path d="M529.5 872.6L529.5 879.4L542.1 879.4L542.1 872.6" stroke-width="1"/>
<path d="M519.5 765L528.7 765" stroke-width="2"/>
</g>
<g class="dimg">
<path d="M192.4 791L236 791" stroke-width="3"/>
<path d="M192.4 841L236 841" stroke-width="3"/>
<path d="M197 791L197 852.3" stroke-width="3"/>
<text class="dim" x="0" y="0" font-size="23.46" transform="translate(205.8 898.4) rotate(-90)" textLength="44.1" lengthAdjust="spacingAndGlyphs">4.60</text>
<path d="M486.6 850.3L486.6 906.4" stroke-width="3"/>
<path d="M524.6 852.3L524.6 937.4" stroke-width="3"/>
<path d="M475.5 901L524.6 901" stroke-width="3"/>
<text class="dim" x="430.5" y="909.9" font-size="24.3" textLength="44" lengthAdjust="spacingAndGlyphs">3.50</text>
<path d="M261.6 851.3L261.6 937.4" stroke-width="3"/>
<path d="M261.6 933L354.5 933" stroke-width="3"/>
<path d="M431.5 933L524.6 933" stroke-width="3"/>
<text class="dim" x="356.3" y="941.9" font-size="24.16" textLength="73.6" lengthAdjust="spacingAndGlyphs">A±0.35</text>
<path d="M222.5 873.3L222.5 968.5" stroke-width="3"/>
<path d="M562.8 873.3L562.8 968.5" stroke-width="3"/>
<path d="M222.5 963.5L354.5 963.5" stroke-width="3"/>
<path d="M430 963.5L562.8 963.5" stroke-width="3"/>
<text class="dim" x="356.3" y="972" font-size="24.16" textLength="72.2" lengthAdjust="spacingAndGlyphs">B±0.50</text>
</g>
<g class="geo">
<path d="M735.1 872.6L735.1 765.3L863 765.3L863 734.2Q863 729.2 868 729.2L942.6 729.2Q947.6 729.2 947.6 734.2L947.6 765.3L1075.7 765.3L1075.7 872.6Z" stroke-width="1"/>
<path d="M863 740.2L947.6 740.2" stroke-width="1"/>
<path d="M873.9 773L873.9 740.2M937.1 740.2L937.1 773" stroke-width="1"/>
<path d="M892 740.2L892 744L893.1 745L918 745L919 744L919 740.2" stroke-width="1"/>
<text class="dim" x="869.1" y="737.3" font-size="6.5" textLength="7" lengthAdjust="spacingAndGlyphs">KD</text>
<text class="dim" x="885.6" y="737.3" font-size="6.5" textLength="19.5" lengthAdjust="spacingAndGlyphs">43501</text>
<text class="dim" x="928.6" y="737.5" font-size="7.5" textLength="4.6" lengthAdjust="spacingAndGlyphs">X</text>
<path d="M747.1 765.3L747.1 872.6" stroke-width="1"/>
<path d="M1063.3 765.3L1063.3 872.6" stroke-width="1"/>
<path d="M740.3 800.8L740.3 850" stroke-width="1"/>
<path d="M742.8 800.8L742.8 850" stroke-width="1"/>
<path d="M735.1 800.8L747.1 800.8" stroke-width="1"/>
<path d="M735.1 850L747.1 850" stroke-width="1"/>
<rect x="743" y="815.5" width="7.2" height="19.8" stroke-width="1"/>
<rect x="745.5" y="817.6" width="2.8" height="15.6" stroke-width="1"/>
<path d="M1070.5 800.8L1070.5 850" stroke-width="1"/>
<path d="M1068 800.8L1068 850" stroke-width="1"/>
<path d="M1075.7 800.8L1063.7 800.8" stroke-width="1"/>
<path d="M1075.7 850L1063.7 850" stroke-width="1"/>
<rect x="1060.6" y="815.5" width="7.2" height="19.8" stroke-width="1"/>
<rect x="1062.5" y="817.6" width="2.8" height="15.6" stroke-width="1"/>
<rect x="754.2" y="772.8" width="302.7" height="37.4" stroke-width="1"/>
<rect x="754.2" y="822.6" width="302.7" height="36.8" stroke-width="1"/>
<path d="M753.6 823.1L1057.5 823.1" stroke-width="3"/>
<path d="M753.6 859L1057.5 859" stroke-width="2.4"/>
<path d="M754.2 808.3L1056.9 808.3" stroke-width="1.8"/>
<rect x="757" y="774.3" width="33.6" height="33.3" stroke-width="1"/>
<g class="aa">
<rect x="767.05" y="784.25" width="13.5" height="13.5" stroke-width="1.5"/>
<rect x="769.6" y="786.8" width="8.4" height="8.4" stroke-width="1.3"/>
<path d="M769.6 786.8L778 795.2M778 786.8L769.6 795.2" stroke-width="1.1"/>
</g>
<rect x="757" y="824.6" width="33.6" height="32.5" stroke-width="1"/>
<g class="aa">
<rect x="767.05" y="834.25" width="13.5" height="13.5" stroke-width="1.5"/>
<rect x="769.6" y="836.8" width="8.4" height="8.4" stroke-width="1.3"/>
<path d="M769.6 836.8L778 845.2M778 836.8L769.6 845.2" stroke-width="1.1"/>
</g>
<path d="M792.65 772.8L792.65 810.2" stroke-width="1.2"/>
<path d="M792.65 822.6L792.65 859.4" stroke-width="1.2"/>
<rect x="794.7" y="774.3" width="33.6" height="33.3" stroke-width="1"/>
<g class="aa">
<rect x="804.75" y="784.25" width="13.5" height="13.5" stroke-width="1.5"/>
<rect x="807.3" y="786.8" width="8.4" height="8.4" stroke-width="1.3"/>
<path d="M807.3 786.8L815.7 795.2M815.7 786.8L807.3 795.2" stroke-width="1.1"/>
</g>
<rect x="794.7" y="824.6" width="33.6" height="32.5" stroke-width="1"/>
<g class="aa">
<rect x="804.75" y="834.25" width="13.5" height="13.5" stroke-width="1.5"/>
<rect x="807.3" y="836.8" width="8.4" height="8.4" stroke-width="1.3"/>
<path d="M807.3 836.8L815.7 845.2M815.7 836.8L807.3 845.2" stroke-width="1.1"/>
</g>
<path d="M830.35 772.8L830.35 810.2" stroke-width="1.2"/>
<path d="M830.35 822.6L830.35 859.4" stroke-width="1.2"/>
<rect x="832.4" y="774.3" width="33.6" height="33.3" stroke-width="1"/>
<g class="aa">
<rect x="842.45" y="784.25" width="13.5" height="13.5" stroke-width="1.5"/>
<rect x="845" y="786.8" width="8.4" height="8.4" stroke-width="1.3"/>
<path d="M845 786.8L853.4 795.2M853.4 786.8L845 795.2" stroke-width="1.1"/>
</g>
<rect x="832.4" y="824.6" width="33.6" height="32.5" stroke-width="1"/>
<g class="aa">
<rect x="842.45" y="834.25" width="13.5" height="13.5" stroke-width="1.5"/>
<rect x="845" y="836.8" width="8.4" height="8.4" stroke-width="1.3"/>
<path d="M845 836.8L853.4 845.2M853.4 836.8L845 845.2" stroke-width="1.1"/>
</g>
<path d="M868.05 772.8L868.05 810.2" stroke-width="2"/>
<path d="M868.05 822.6L868.05 859.4" stroke-width="2"/>
<rect x="870.1" y="774.3" width="33.6" height="33.3" stroke-width="1"/>
<g class="aa">
<rect x="880.15" y="784.25" width="13.5" height="13.5" stroke-width="1.5"/>
<rect x="882.7" y="786.8" width="8.4" height="8.4" stroke-width="1.3"/>
<path d="M882.7 786.8L891.1 795.2M891.1 786.8L882.7 795.2" stroke-width="1.1"/>
</g>
<rect x="870.1" y="824.6" width="33.6" height="32.5" stroke-width="1"/>
<g class="aa">
<rect x="880.15" y="834.25" width="13.5" height="13.5" stroke-width="1.5"/>
<rect x="882.7" y="836.8" width="8.4" height="8.4" stroke-width="1.3"/>
<path d="M882.7 836.8L891.1 845.2M891.1 836.8L882.7 845.2" stroke-width="1.1"/>
</g>
<path d="M905.75 772.8L905.75 810.2" stroke-width="1.2"/>
<path d="M905.75 822.6L905.75 859.4" stroke-width="1.2"/>
<rect x="907.8" y="774.3" width="33.6" height="33.3" stroke-width="1"/>
<g class="aa">
<rect x="917.85" y="784.25" width="13.5" height="13.5" stroke-width="1.5"/>
<rect x="920.4" y="786.8" width="8.4" height="8.4" stroke-width="1.3"/>
<path d="M920.4 786.8L928.8 795.2M928.8 786.8L920.4 795.2" stroke-width="1.1"/>
</g>
<rect x="907.8" y="824.6" width="33.6" height="32.5" stroke-width="1"/>
<g class="aa">
<rect x="917.85" y="834.25" width="13.5" height="13.5" stroke-width="1.5"/>
<rect x="920.4" y="836.8" width="8.4" height="8.4" stroke-width="1.3"/>
<path d="M920.4 836.8L928.8 845.2M928.8 836.8L920.4 845.2" stroke-width="1.1"/>
</g>
<path d="M943.45 772.8L943.45 810.2" stroke-width="1.2"/>
<path d="M943.45 822.6L943.45 859.4" stroke-width="1.2"/>
<rect x="945.5" y="774.3" width="33.6" height="33.3" stroke-width="1"/>
<g class="aa">
<rect x="955.55" y="784.25" width="13.5" height="13.5" stroke-width="1.5"/>
<rect x="958.1" y="786.8" width="8.4" height="8.4" stroke-width="1.3"/>
<path d="M958.1 786.8L966.5 795.2M966.5 786.8L958.1 795.2" stroke-width="1.1"/>
</g>
<rect x="945.5" y="824.6" width="33.6" height="32.5" stroke-width="1"/>
<g class="aa">
<rect x="955.55" y="834.25" width="13.5" height="13.5" stroke-width="1.5"/>
<rect x="958.1" y="836.8" width="8.4" height="8.4" stroke-width="1.3"/>
<path d="M958.1 836.8L966.5 845.2M966.5 836.8L958.1 845.2" stroke-width="1.1"/>
</g>
<path d="M981.15 772.8L981.15 810.2" stroke-width="1.2"/>
<path d="M981.15 822.6L981.15 859.4" stroke-width="1.2"/>
<rect x="983.2" y="774.3" width="33.6" height="33.3" stroke-width="1"/>
<g class="aa">
<rect x="993.25" y="784.25" width="13.5" height="13.5" stroke-width="1.5"/>
<rect x="995.8" y="786.8" width="8.4" height="8.4" stroke-width="1.3"/>
<path d="M995.8 786.8L1004.2 795.2M1004.2 786.8L995.8 795.2" stroke-width="1.1"/>
</g>
<rect x="983.2" y="824.6" width="33.6" height="32.5" stroke-width="1"/>
<g class="aa">
<rect x="993.25" y="834.25" width="13.5" height="13.5" stroke-width="1.5"/>
<rect x="995.8" y="836.8" width="8.4" height="8.4" stroke-width="1.3"/>
<path d="M995.8 836.8L1004.2 845.2M1004.2 836.8L995.8 845.2" stroke-width="1.1"/>
</g>
<path d="M1018.85 772.8L1018.85 810.2" stroke-width="2"/>
<path d="M1018.85 822.6L1018.85 859.4" stroke-width="2"/>
<rect x="1020.9" y="774.3" width="33.6" height="33.3" stroke-width="1"/>
<g class="aa">
<rect x="1030.95" y="784.25" width="13.5" height="13.5" stroke-width="1.5"/>
<rect x="1033.5" y="786.8" width="8.4" height="8.4" stroke-width="1.3"/>
<path d="M1033.5 786.8L1041.9 795.2M1041.9 786.8L1033.5 795.2" stroke-width="1.1"/>
</g>
<rect x="1020.9" y="824.6" width="33.6" height="32.5" stroke-width="1"/>
<g class="aa">
<rect x="1030.95" y="834.25" width="13.5" height="13.5" stroke-width="1.5"/>
<rect x="1033.5" y="836.8" width="8.4" height="8.4" stroke-width="1.3"/>
<path d="M1033.5 836.8L1041.9 845.2M1041.9 836.8L1033.5 845.2" stroke-width="1.1"/>
</g>
<path d="M750.6 791L1061.2 791" stroke-width="1" stroke-dasharray="15 3 3 3"/>
<path d="M750.6 841L1061.2 841" stroke-width="1" stroke-dasharray="15 3 3 3"/>
<path d="M755.1 822L755.1 865.6L771.2 865.6L771.2 856" stroke-width="4.2" stroke-linejoin="miter"/>
<path d="M756 872.6L756 879.4L769.3 879.4L769.3 872.6" stroke-width="1"/>
<path d="M1042.1 872.6L1042.1 879.4L1054.7 879.4L1054.7 872.6" stroke-width="1"/>
<path d="M769.5 765L778.7 765" stroke-width="2"/>
</g>
<g class="dimg">
<path d="M1064.7 791L1102.7 791" stroke-width="3"/>
<path d="M1064.7 841L1102.7 841" stroke-width="3"/>
<path d="M1098.7 771L1098.7 791" stroke-width="3"/>
<path d="M1098.7 841L1098.7 861.3" stroke-width="3"/>
<text class="dim" x="0" y="0" font-size="23.46" transform="translate(1107 840) rotate(-90)" textLength="44.5" lengthAdjust="spacingAndGlyphs">4.60</text>
<path d="M773.8 851.3L773.8 937.4" stroke-width="3"/>
<path d="M811.2 851.3L811.2 906.4" stroke-width="3"/>
<path d="M773.8 901L821.2 901" stroke-width="3"/>
<text class="dim" x="823.2" y="909.9" font-size="24.3" textLength="44.7" lengthAdjust="spacingAndGlyphs">3.50</text>
<path d="M1036.6 851.3L1036.6 937.4" stroke-width="3"/>
<path d="M773.8 933L866.5 933" stroke-width="3"/>
<path d="M943 933L1036.6 933" stroke-width="3"/>
<text class="dim" x="868.3" y="941.9" font-size="24.16" textLength="73.2" lengthAdjust="spacingAndGlyphs">A±0.35</text>
<path d="M735.1 873.3L735.1 968.5" stroke-width="3"/>
<path d="M1075.7 873.3L1075.7 968.5" stroke-width="3"/>
<path d="M735.1 963.5L868 963.5" stroke-width="3"/>
<path d="M942 963.5L1075.7 963.5" stroke-width="3"/>
<text class="dim" x="869.7" y="972" font-size="24.16" textLength="70.8" lengthAdjust="spacingAndGlyphs">B±0.50</text>
</g>
<g class="dimg">
<rect x="1266.9" y="637.4" width="468.6" height="320.2" stroke-width="2.6"/>
<path d="M1330.4 858.3L1330.4 750.8L1461.4 750.8L1461.4 717L1540.2 717L1540.2 750.8L1671.5 750.8L1671.5 858.3Z" stroke-width="2.6"/>
<circle cx="1342.5" cy="811" r="12.6" stroke-width="2.8"/>
</g><g class="geo">
<circle cx="1659.8" cy="811" r="12.4" stroke-width="1.1"/>
<path d="M1337 811L1348 811" stroke-width="1"/>
<path d="M1342.5 806L1342.5 816" stroke-width="1"/>
<path d="M1644.5 811L1675 811" stroke-width="1"/>
<path d="M1659.8 795.5L1659.8 826.5" stroke-width="1"/>
<circle cx="1369" cy="776.7" r="5.3" stroke-width="1.2"/>
<path d="M1361.5 776.7L1376.5 776.7" stroke-width="0.9"/>
<path d="M1369 769.2L1369 784.2" stroke-width="0.9"/>
<circle cx="1369" cy="826.7" r="5.3" stroke-width="1.2"/>
<path d="M1361.5 826.7L1376.5 826.7" stroke-width="0.9"/>
<path d="M1369 819.2L1369 834.2" stroke-width="0.9"/>
<circle cx="1406.77" cy="776.7" r="5.3" stroke-width="1.2"/>
<path d="M1399.27 776.7L1414.27 776.7" stroke-width="0.9"/>
<path d="M1406.77 769.2L1406.77 784.2" stroke-width="0.9"/>
<circle cx="1406.77" cy="826.7" r="5.3" stroke-width="1.2"/>
<path d="M1399.27 826.7L1414.27 826.7" stroke-width="0.9"/>
<path d="M1406.77 819.2L1406.77 834.2" stroke-width="0.9"/>
<circle cx="1444.54" cy="776.7" r="5.3" stroke-width="1.2"/>
<path d="M1437.04 776.7L1452.04 776.7" stroke-width="0.9"/>
<path d="M1444.54 769.2L1444.54 784.2" stroke-width="0.9"/>
<circle cx="1444.54" cy="826.7" r="5.3" stroke-width="1.2"/>
<path d="M1437.04 826.7L1452.04 826.7" stroke-width="0.9"/>
<path d="M1444.54 819.2L1444.54 834.2" stroke-width="0.9"/>
<circle cx="1482.31" cy="776.7" r="5.3" stroke-width="1.2"/>
<path d="M1474.81 776.7L1489.81 776.7" stroke-width="0.9"/>
<path d="M1482.31 769.2L1482.31 784.2" stroke-width="0.9"/>
<circle cx="1482.31" cy="826.7" r="5.3" stroke-width="1.2"/>
<path d="M1474.81 826.7L1489.81 826.7" stroke-width="0.9"/>
<path d="M1482.31 819.2L1482.31 834.2" stroke-width="0.9"/>
<circle cx="1520.08" cy="776.7" r="5.3" stroke-width="1.2"/>
<path d="M1512.58 776.7L1527.58 776.7" stroke-width="0.9"/>
<path d="M1520.08 769.2L1520.08 784.2" stroke-width="0.9"/>
<circle cx="1520.08" cy="826.7" r="5.3" stroke-width="1.2"/>
<path d="M1512.58 826.7L1527.58 826.7" stroke-width="0.9"/>
<path d="M1520.08 819.2L1520.08 834.2" stroke-width="0.9"/>
<circle cx="1557.85" cy="776.7" r="5.3" stroke-width="1.2"/>
<path d="M1550.35 776.7L1565.35 776.7" stroke-width="0.9"/>
<path d="M1557.85 769.2L1557.85 784.2" stroke-width="0.9"/>
<circle cx="1557.85" cy="826.7" r="5.3" stroke-width="1.2"/>
<path d="M1550.35 826.7L1565.35 826.7" stroke-width="0.9"/>
<path d="M1557.85 819.2L1557.85 834.2" stroke-width="0.9"/>
<circle cx="1595.62" cy="776.7" r="5.3" stroke-width="1.2"/>
<path d="M1588.12 776.7L1603.12 776.7" stroke-width="0.9"/>
<path d="M1595.62 769.2L1595.62 784.2" stroke-width="0.9"/>
<circle cx="1595.62" cy="826.7" r="5.3" stroke-width="1.2"/>
<path d="M1588.12 826.7L1603.12 826.7" stroke-width="0.9"/>
<path d="M1595.62 819.2L1595.62 834.2" stroke-width="0.9"/>
<circle cx="1633.39" cy="776.7" r="5.3" stroke-width="1.2"/>
<path d="M1625.89 776.7L1640.89 776.7" stroke-width="0.9"/>
<path d="M1633.39 769.2L1633.39 784.2" stroke-width="0.9"/>
<circle cx="1633.39" cy="826.7" r="5.3" stroke-width="1.2"/>
<path d="M1625.89 826.7L1640.89 826.7" stroke-width="0.9"/>
<path d="M1633.39 819.2L1633.39 834.2" stroke-width="0.9"/>
<path d="M1500.5 709.7L1500.5 867.7" stroke-width="0.9" stroke-dasharray="16 3 3 3"/>
</g><g class="dimg">
<path d="M1330.4 564.4L1330.4 750" stroke-width="3"/>
<path d="M1671.5 564.4L1671.5 750" stroke-width="3"/>
<path d="M1330.4 569.8L1493 569.8" stroke-width="3"/>
<path d="M1510.5 569.8L1671.5 569.8" stroke-width="3"/>
<text class="dim" x="1495" y="577.9" font-size="22.77" textLength="13.6" lengthAdjust="spacingAndGlyphs">B</text>
<path d="M1342.5 588.2L1342.5 797" stroke-width="3"/>
<path d="M1659.8 588.2L1659.8 793" stroke-width="3"/>
<path d="M1342.5 593.6L1463.5 593.6" stroke-width="3"/>
<path d="M1537.5 593.6L1659.8 593.6" stroke-width="3"/>
<text class="dim" x="1465.4" y="601.7" font-size="23.74" textLength="70.2" lengthAdjust="spacingAndGlyphs">C±0.05</text>
<path d="M1369 612L1369 766.4" stroke-width="3"/>
<path d="M1633.4 612L1633.4 766.4" stroke-width="3"/>
<path d="M1369 616.6L1463.5 616.6" stroke-width="3"/>
<path d="M1537.5 616.6L1633.4 616.6" stroke-width="3"/>
<text class="dim" x="1465.4" y="624.6" font-size="23.6" textLength="70.2" lengthAdjust="spacingAndGlyphs">A±0.05</text>
<path d="M1406.8 652.2L1406.8 766.4" stroke-width="3"/>
<path d="M1369 655.7L1416.8 655.7" stroke-width="3"/>
<text class="dim" x="1419.5" y="665.1" font-size="23.6" textLength="99.9" lengthAdjust="spacingAndGlyphs">3.50±0.05</text>
<path d="M1461.4 678.7L1461.4 717" stroke-width="3"/>
<path d="M1540.2 678.7L1540.2 717" stroke-width="3"/>
<path d="M1461.4 683.5L1474.9 683.5" stroke-width="3"/>
<path d="M1524.8 683.5L1540.2 683.5" stroke-width="3"/>
<text class="dim" x="1477.6" y="692.1" font-size="23.6" textLength="44.5" lengthAdjust="spacingAndGlyphs">7.29</text>
<path d="M1540.2 717L1700.4 717" stroke-width="3"/>
<path d="M1676 858.3L1700.4 858.3" stroke-width="3"/>
<path d="M1695.8 717L1695.8 762.5" stroke-width="3"/>
<path d="M1695.8 813.5L1695.8 858.3" stroke-width="3"/>
<text class="dim" x="0" y="0" font-size="23.04" transform="translate(1704 811) rotate(-90)" textLength="45.9" lengthAdjust="spacingAndGlyphs">13.01</text>
<path d="M1156.7 750.8L1328 750.8" stroke-width="3"/>
<path d="M1156.7 858.3L1328 858.3" stroke-width="3"/>
<path d="M1161 750.8L1161 780" stroke-width="3"/>
<path d="M1161 828.5L1161 858.3" stroke-width="3"/>
<text class="dim" x="0" y="0" font-size="23.46" transform="translate(1169.3 825.9) rotate(-90)" textLength="43.3" lengthAdjust="spacingAndGlyphs">9.95</text>
<path d="M1185.9 776.7L1360 776.7" stroke-width="3"/>
<path d="M1185.9 826.7L1353 826.7" stroke-width="3"/>
<path d="M1190.8 735.4L1190.8 826.7" stroke-width="3"/>
<text class="dim" x="0" y="0" font-size="23.32" transform="translate(1199.3 734) rotate(-90)" textLength="98.5" lengthAdjust="spacingAndGlyphs">4.60±0.05</text>
<path d="M1212.9 811L1326.3 811" stroke-width="3"/>
<path d="M1217.8 790.2L1217.8 811" stroke-width="3"/>
<path d="M1217.8 826.7L1217.8 848.8" stroke-width="3"/>
<text class="dim" x="0" y="0" font-size="23.32" transform="translate(1226.9 948.7) rotate(-90)" textLength="98.5" lengthAdjust="spacingAndGlyphs">1.42±0.05</text>
<path d="M1246.7 811L1246.7 869" stroke-width="3"/>
<text class="dim" x="0" y="0" font-size="23.6" transform="translate(1254.9 916.3) rotate(-90)" textLength="45.9" lengthAdjust="spacingAndGlyphs">2.93</text>
<path d="M1351.3 820.2L1392.5 864.2" stroke-width="3"/>
<text class="dim" x="0" y="0" font-size="23.2" transform="translate(1383.5 871.5) rotate(44)" textLength="121" lengthAdjust="spacingAndGlyphs">⌀2.30±0.05</text>
<path d="M1630.1 831.8L1596.4 861" stroke-width="3"/>
<text class="dim" x="0" y="0" font-size="23.2" transform="translate(1522 957.5) rotate(-46.9)" textLength="115.5" lengthAdjust="spacingAndGlyphs">⌀1.02±0.05</text>
<text class="cad" x="1401.8" y="1012.4" font-size="30.7" textLength="68.2" lengthAdjust="spacingAndGlyphs">P.C.B.</text>
<text class="cad" x="1488.8" y="1012.4" font-size="30.7" textLength="85.7" lengthAdjust="spacingAndGlyphs">LAYOUT</text>
<path d="M1399.2 1016.5L1575 1016.5" stroke-width="2.9"/>
<path d="M1399.2 1029.4L1575 1029.4" stroke-width="2.9"/>
</g>
</svg></body></html>
